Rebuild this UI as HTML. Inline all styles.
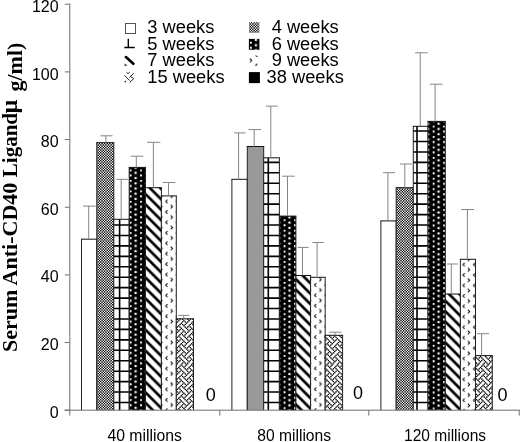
<!DOCTYPE html>
<html><head><meta charset="utf-8"><style>
html,body{margin:0;padding:0;background:#fff;}
svg{display:block;will-change:transform;filter:blur(0.35px);}
.yl{font-family:"Liberation Sans",sans-serif;font-size:16px;fill:#000;}
.zl{font-family:"Liberation Sans",sans-serif;font-size:18px;fill:#000;}
.xl{font-family:"Liberation Sans",sans-serif;font-size:15.6px;fill:#000;}
.lg{font-family:"Liberation Sans",sans-serif;font-size:18.3px;fill:#000;}
.yt{font-family:"Liberation Serif",serif;font-size:22px;font-weight:bold;fill:#000;}
</style></head><body>
<svg xmlns="http://www.w3.org/2000/svg" width="520" height="442" viewBox="0 0 520 442">
<defs><pattern id="chk0" patternUnits="userSpaceOnUse" width="13" height="13" patternTransform="translate(0,0)"><rect width="13" height="13" fill="#fff"/><rect x="0" y="0" width="1" height="1" fill="#000000"/><rect x="1" y="0" width="1" height="1" fill="#c1c1c1"/><rect x="2" y="0" width="1" height="1" fill="#a2a2a2"/><rect x="3" y="0" width="1" height="1" fill="#090909"/><rect x="5" y="0" width="1" height="1" fill="#202020"/><rect x="6" y="0" width="1" height="1" fill="#808080"/><rect x="7" y="0" width="1" height="1" fill="#dfdfdf"/><rect x="8" y="0" width="1" height="1" fill="#000000"/><rect x="9" y="0" width="1" height="1" fill="#f6f6f6"/><rect x="10" y="0" width="1" height="1" fill="#5d5d5d"/><rect x="11" y="0" width="1" height="1" fill="#3e3e3e"/><rect x="0" y="1" width="1" height="1" fill="#c1c1c1"/><rect x="1" y="1" width="1" height="1" fill="#606060"/><rect x="2" y="1" width="1" height="1" fill="#6f6f6f"/><rect x="3" y="1" width="1" height="1" fill="#b8b8b8"/><rect x="4" y="1" width="1" height="1" fill="#393939"/><rect x="5" y="1" width="1" height="1" fill="#adadad"/><rect x="6" y="1" width="1" height="1" fill="#808080"/><rect x="7" y="1" width="1" height="1" fill="#525252"/><rect x="8" y="1" width="1" height="1" fill="#c6c6c6"/><rect x="9" y="1" width="1" height="1" fill="#474747"/><rect x="10" y="1" width="1" height="1" fill="#909090"/><rect x="11" y="1" width="1" height="1" fill="#9f9f9f"/><rect x="12" y="1" width="1" height="1" fill="#3e3e3e"/><rect x="0" y="2" width="1" height="1" fill="#a2a2a2"/><rect x="1" y="2" width="1" height="1" fill="#707070"/><rect x="2" y="2" width="1" height="1" fill="#777777"/><rect x="3" y="2" width="1" height="1" fill="#9d9d9d"/><rect x="4" y="2" width="1" height="1" fill="#5c5c5c"/><rect x="5" y="2" width="1" height="1" fill="#979797"/><rect x="6" y="2" width="1" height="1" fill="#808080"/><rect x="7" y="2" width="1" height="1" fill="#686868"/><rect x="8" y="2" width="1" height="1" fill="#a3a3a3"/><rect x="9" y="2" width="1" height="1" fill="#626262"/><rect x="10" y="2" width="1" height="1" fill="#888888"/><rect x="11" y="2" width="1" height="1" fill="#8f8f8f"/><rect x="12" y="2" width="1" height="1" fill="#5d5d5d"/><rect x="0" y="3" width="1" height="1" fill="#080808"/><rect x="1" y="3" width="1" height="1" fill="#b8b8b8"/><rect x="2" y="3" width="1" height="1" fill="#9d9d9d"/><rect x="3" y="3" width="1" height="1" fill="#181818"/><rect x="5" y="3" width="1" height="1" fill="#2c2c2c"/><rect x="6" y="3" width="1" height="1" fill="#808080"/><rect x="7" y="3" width="1" height="1" fill="#d3d3d3"/><rect x="8" y="3" width="1" height="1" fill="#000000"/><rect x="9" y="3" width="1" height="1" fill="#e7e7e7"/><rect x="10" y="3" width="1" height="1" fill="#626262"/><rect x="11" y="3" width="1" height="1" fill="#474747"/><rect x="12" y="3" width="1" height="1" fill="#f7f7f7"/><rect x="1" y="4" width="1" height="1" fill="#393939"/><rect x="2" y="4" width="1" height="1" fill="#5b5b5b"/><rect x="4" y="4" width="1" height="1" fill="#000000"/><rect x="5" y="4" width="1" height="1" fill="#e5e5e5"/><rect x="6" y="4" width="1" height="1" fill="#808080"/><rect x="7" y="4" width="1" height="1" fill="#1a1a1a"/><rect x="9" y="4" width="1" height="1" fill="#010101"/><rect x="10" y="4" width="1" height="1" fill="#a4a4a4"/><rect x="11" y="4" width="1" height="1" fill="#c6c6c6"/><rect x="12" y="4" width="1" height="1" fill="#000000"/><rect x="0" y="5" width="1" height="1" fill="#202020"/><rect x="1" y="5" width="1" height="1" fill="#adadad"/><rect x="2" y="5" width="1" height="1" fill="#979797"/><rect x="3" y="5" width="1" height="1" fill="#2e2e2e"/><rect x="4" y="5" width="1" height="1" fill="#e5e5e5"/><rect x="5" y="5" width="1" height="1" fill="#3d3d3d"/><rect x="6" y="5" width="1" height="1" fill="#808080"/><rect x="7" y="5" width="1" height="1" fill="#c2c2c2"/><rect x="8" y="5" width="1" height="1" fill="#1a1a1a"/><rect x="9" y="5" width="1" height="1" fill="#d1d1d1"/><rect x="10" y="5" width="1" height="1" fill="#686868"/><rect x="11" y="5" width="1" height="1" fill="#525252"/><rect x="12" y="5" width="1" height="1" fill="#dfdfdf"/><rect x="0" y="6" width="1" height="1" fill="#808080"/><rect x="1" y="6" width="1" height="1" fill="#808080"/><rect x="2" y="6" width="1" height="1" fill="#808080"/><rect x="3" y="6" width="1" height="1" fill="#808080"/><rect x="4" y="6" width="1" height="1" fill="#808080"/><rect x="5" y="6" width="1" height="1" fill="#808080"/><rect x="6" y="6" width="1" height="1" fill="#808080"/><rect x="7" y="6" width="1" height="1" fill="#808080"/><rect x="8" y="6" width="1" height="1" fill="#808080"/><rect x="9" y="6" width="1" height="1" fill="#808080"/><rect x="10" y="6" width="1" height="1" fill="#808080"/><rect x="11" y="6" width="1" height="1" fill="#808080"/><rect x="12" y="6" width="1" height="1" fill="#808080"/><rect x="0" y="7" width="1" height="1" fill="#dfdfdf"/><rect x="1" y="7" width="1" height="1" fill="#525252"/><rect x="2" y="7" width="1" height="1" fill="#686868"/><rect x="3" y="7" width="1" height="1" fill="#d1d1d1"/><rect x="4" y="7" width="1" height="1" fill="#1a1a1a"/><rect x="5" y="7" width="1" height="1" fill="#c2c2c2"/><rect x="6" y="7" width="1" height="1" fill="#808080"/><rect x="7" y="7" width="1" height="1" fill="#3d3d3d"/><rect x="8" y="7" width="1" height="1" fill="#e5e5e5"/><rect x="9" y="7" width="1" height="1" fill="#2e2e2e"/><rect x="10" y="7" width="1" height="1" fill="#979797"/><rect x="11" y="7" width="1" height="1" fill="#adadad"/><rect x="12" y="7" width="1" height="1" fill="#202020"/><rect x="0" y="8" width="1" height="1" fill="#000000"/><rect x="1" y="8" width="1" height="1" fill="#c6c6c6"/><rect x="2" y="8" width="1" height="1" fill="#a4a4a4"/><rect x="3" y="8" width="1" height="1" fill="#010101"/><rect x="5" y="8" width="1" height="1" fill="#1a1a1a"/><rect x="6" y="8" width="1" height="1" fill="#808080"/><rect x="7" y="8" width="1" height="1" fill="#e5e5e5"/><rect x="8" y="8" width="1" height="1" fill="#000000"/><rect x="10" y="8" width="1" height="1" fill="#5b5b5b"/><rect x="11" y="8" width="1" height="1" fill="#393939"/><rect x="0" y="9" width="1" height="1" fill="#f7f7f7"/><rect x="1" y="9" width="1" height="1" fill="#474747"/><rect x="2" y="9" width="1" height="1" fill="#626262"/><rect x="3" y="9" width="1" height="1" fill="#e7e7e7"/><rect x="4" y="9" width="1" height="1" fill="#000000"/><rect x="5" y="9" width="1" height="1" fill="#d3d3d3"/><rect x="6" y="9" width="1" height="1" fill="#808080"/><rect x="7" y="9" width="1" height="1" fill="#2c2c2c"/><rect x="9" y="9" width="1" height="1" fill="#181818"/><rect x="10" y="9" width="1" height="1" fill="#9d9d9d"/><rect x="11" y="9" width="1" height="1" fill="#b8b8b8"/><rect x="12" y="9" width="1" height="1" fill="#080808"/><rect x="0" y="10" width="1" height="1" fill="#5d5d5d"/><rect x="1" y="10" width="1" height="1" fill="#8f8f8f"/><rect x="2" y="10" width="1" height="1" fill="#888888"/><rect x="3" y="10" width="1" height="1" fill="#626262"/><rect x="4" y="10" width="1" height="1" fill="#a3a3a3"/><rect x="5" y="10" width="1" height="1" fill="#686868"/><rect x="6" y="10" width="1" height="1" fill="#808080"/><rect x="7" y="10" width="1" height="1" fill="#979797"/><rect x="8" y="10" width="1" height="1" fill="#5c5c5c"/><rect x="9" y="10" width="1" height="1" fill="#9d9d9d"/><rect x="10" y="10" width="1" height="1" fill="#777777"/><rect x="11" y="10" width="1" height="1" fill="#707070"/><rect x="12" y="10" width="1" height="1" fill="#a2a2a2"/><rect x="0" y="11" width="1" height="1" fill="#3e3e3e"/><rect x="1" y="11" width="1" height="1" fill="#9f9f9f"/><rect x="2" y="11" width="1" height="1" fill="#909090"/><rect x="3" y="11" width="1" height="1" fill="#474747"/><rect x="4" y="11" width="1" height="1" fill="#c6c6c6"/><rect x="5" y="11" width="1" height="1" fill="#525252"/><rect x="6" y="11" width="1" height="1" fill="#808080"/><rect x="7" y="11" width="1" height="1" fill="#adadad"/><rect x="8" y="11" width="1" height="1" fill="#393939"/><rect x="9" y="11" width="1" height="1" fill="#b8b8b8"/><rect x="10" y="11" width="1" height="1" fill="#6f6f6f"/><rect x="11" y="11" width="1" height="1" fill="#606060"/><rect x="12" y="11" width="1" height="1" fill="#c1c1c1"/><rect x="1" y="12" width="1" height="1" fill="#3e3e3e"/><rect x="2" y="12" width="1" height="1" fill="#5d5d5d"/><rect x="3" y="12" width="1" height="1" fill="#f6f6f6"/><rect x="4" y="12" width="1" height="1" fill="#000000"/><rect x="5" y="12" width="1" height="1" fill="#dfdfdf"/><rect x="6" y="12" width="1" height="1" fill="#808080"/><rect x="7" y="12" width="1" height="1" fill="#202020"/><rect x="9" y="12" width="1" height="1" fill="#090909"/><rect x="10" y="12" width="1" height="1" fill="#a2a2a2"/><rect x="11" y="12" width="1" height="1" fill="#c1c1c1"/><rect x="12" y="12" width="1" height="1" fill="#000000"/></pattern><pattern id="dots0" patternUnits="userSpaceOnUse" width="8" height="8" patternTransform="translate(129.75,169.55) scale(1.305)"><rect width="8" height="8" fill="#000"/><g fill="#fff"><circle cx="0.5" cy="0.5" r="0.95"/><circle cx="0.5" cy="4.5" r="0.95"/><circle cx="4.5" cy="2.5" r="0.95"/><circle cx="4.5" cy="6.5" r="0.95"/></g></pattern><pattern id="chev0" patternUnits="userSpaceOnUse" width="8" height="8" patternTransform="translate(165.20,220.45) scale(1.305)"><rect width="8" height="8" fill="#fff"/><path d="M1.8 0.1L0.4 1.5L1.8 2.9M4.2 4.1L5.6 5.5L4.2 6.9" stroke="#000" stroke-width="0.75" fill="none" stroke-linecap="butt" stroke-linejoin="miter"/></pattern><pattern id="diag0" patternUnits="userSpaceOnUse" width="10.44" height="10.44" patternTransform="translate(0,6.80)"><rect width="10.44" height="10.44" fill="#fff"/><g fill="#000"><polygon points="-23.780,-1 -19.980,-1 -7.540,11.440 -11.340,11.440"/><polygon points="-13.340,-1 -9.540,-1 2.900,11.440 -0.900,11.440"/><polygon points="-2.900,-1 0.900,-1 13.340,11.440 9.540,11.440"/><polygon points="7.540,-1 11.340,-1 23.780,11.440 19.980,11.440"/><polygon points="17.980,-1 21.780,-1 34.220,11.440 30.420,11.440"/></g></pattern><pattern id="weave0" href="#weaveB" patternTransform="translate(0,0)"/><pattern id="chk1" patternUnits="userSpaceOnUse" width="13" height="13" patternTransform="translate(0,0)"><rect width="13" height="13" fill="#fff"/><rect x="0" y="0" width="1" height="1" fill="#000000"/><rect x="1" y="0" width="1" height="1" fill="#c1c1c1"/><rect x="2" y="0" width="1" height="1" fill="#a2a2a2"/><rect x="3" y="0" width="1" height="1" fill="#090909"/><rect x="5" y="0" width="1" height="1" fill="#202020"/><rect x="6" y="0" width="1" height="1" fill="#808080"/><rect x="7" y="0" width="1" height="1" fill="#dfdfdf"/><rect x="8" y="0" width="1" height="1" fill="#000000"/><rect x="9" y="0" width="1" height="1" fill="#f6f6f6"/><rect x="10" y="0" width="1" height="1" fill="#5d5d5d"/><rect x="11" y="0" width="1" height="1" fill="#3e3e3e"/><rect x="0" y="1" width="1" height="1" fill="#c1c1c1"/><rect x="1" y="1" width="1" height="1" fill="#606060"/><rect x="2" y="1" width="1" height="1" fill="#6f6f6f"/><rect x="3" y="1" width="1" height="1" fill="#b8b8b8"/><rect x="4" y="1" width="1" height="1" fill="#393939"/><rect x="5" y="1" width="1" height="1" fill="#adadad"/><rect x="6" y="1" width="1" height="1" fill="#808080"/><rect x="7" y="1" width="1" height="1" fill="#525252"/><rect x="8" y="1" width="1" height="1" fill="#c6c6c6"/><rect x="9" y="1" width="1" height="1" fill="#474747"/><rect x="10" y="1" width="1" height="1" fill="#909090"/><rect x="11" y="1" width="1" height="1" fill="#9f9f9f"/><rect x="12" y="1" width="1" height="1" fill="#3e3e3e"/><rect x="0" y="2" width="1" height="1" fill="#a2a2a2"/><rect x="1" y="2" width="1" height="1" fill="#707070"/><rect x="2" y="2" width="1" height="1" fill="#777777"/><rect x="3" y="2" width="1" height="1" fill="#9d9d9d"/><rect x="4" y="2" width="1" height="1" fill="#5c5c5c"/><rect x="5" y="2" width="1" height="1" fill="#979797"/><rect x="6" y="2" width="1" height="1" fill="#808080"/><rect x="7" y="2" width="1" height="1" fill="#686868"/><rect x="8" y="2" width="1" height="1" fill="#a3a3a3"/><rect x="9" y="2" width="1" height="1" fill="#626262"/><rect x="10" y="2" width="1" height="1" fill="#888888"/><rect x="11" y="2" width="1" height="1" fill="#8f8f8f"/><rect x="12" y="2" width="1" height="1" fill="#5d5d5d"/><rect x="0" y="3" width="1" height="1" fill="#080808"/><rect x="1" y="3" width="1" height="1" fill="#b8b8b8"/><rect x="2" y="3" width="1" height="1" fill="#9d9d9d"/><rect x="3" y="3" width="1" height="1" fill="#181818"/><rect x="5" y="3" width="1" height="1" fill="#2c2c2c"/><rect x="6" y="3" width="1" height="1" fill="#808080"/><rect x="7" y="3" width="1" height="1" fill="#d3d3d3"/><rect x="8" y="3" width="1" height="1" fill="#000000"/><rect x="9" y="3" width="1" height="1" fill="#e7e7e7"/><rect x="10" y="3" width="1" height="1" fill="#626262"/><rect x="11" y="3" width="1" height="1" fill="#474747"/><rect x="12" y="3" width="1" height="1" fill="#f7f7f7"/><rect x="1" y="4" width="1" height="1" fill="#393939"/><rect x="2" y="4" width="1" height="1" fill="#5b5b5b"/><rect x="4" y="4" width="1" height="1" fill="#000000"/><rect x="5" y="4" width="1" height="1" fill="#e5e5e5"/><rect x="6" y="4" width="1" height="1" fill="#808080"/><rect x="7" y="4" width="1" height="1" fill="#1a1a1a"/><rect x="9" y="4" width="1" height="1" fill="#010101"/><rect x="10" y="4" width="1" height="1" fill="#a4a4a4"/><rect x="11" y="4" width="1" height="1" fill="#c6c6c6"/><rect x="12" y="4" width="1" height="1" fill="#000000"/><rect x="0" y="5" width="1" height="1" fill="#202020"/><rect x="1" y="5" width="1" height="1" fill="#adadad"/><rect x="2" y="5" width="1" height="1" fill="#979797"/><rect x="3" y="5" width="1" height="1" fill="#2e2e2e"/><rect x="4" y="5" width="1" height="1" fill="#e5e5e5"/><rect x="5" y="5" width="1" height="1" fill="#3d3d3d"/><rect x="6" y="5" width="1" height="1" fill="#808080"/><rect x="7" y="5" width="1" height="1" fill="#c2c2c2"/><rect x="8" y="5" width="1" height="1" fill="#1a1a1a"/><rect x="9" y="5" width="1" height="1" fill="#d1d1d1"/><rect x="10" y="5" width="1" height="1" fill="#686868"/><rect x="11" y="5" width="1" height="1" fill="#525252"/><rect x="12" y="5" width="1" height="1" fill="#dfdfdf"/><rect x="0" y="6" width="1" height="1" fill="#808080"/><rect x="1" y="6" width="1" height="1" fill="#808080"/><rect x="2" y="6" width="1" height="1" fill="#808080"/><rect x="3" y="6" width="1" height="1" fill="#808080"/><rect x="4" y="6" width="1" height="1" fill="#808080"/><rect x="5" y="6" width="1" height="1" fill="#808080"/><rect x="6" y="6" width="1" height="1" fill="#808080"/><rect x="7" y="6" width="1" height="1" fill="#808080"/><rect x="8" y="6" width="1" height="1" fill="#808080"/><rect x="9" y="6" width="1" height="1" fill="#808080"/><rect x="10" y="6" width="1" height="1" fill="#808080"/><rect x="11" y="6" width="1" height="1" fill="#808080"/><rect x="12" y="6" width="1" height="1" fill="#808080"/><rect x="0" y="7" width="1" height="1" fill="#dfdfdf"/><rect x="1" y="7" width="1" height="1" fill="#525252"/><rect x="2" y="7" width="1" height="1" fill="#686868"/><rect x="3" y="7" width="1" height="1" fill="#d1d1d1"/><rect x="4" y="7" width="1" height="1" fill="#1a1a1a"/><rect x="5" y="7" width="1" height="1" fill="#c2c2c2"/><rect x="6" y="7" width="1" height="1" fill="#808080"/><rect x="7" y="7" width="1" height="1" fill="#3d3d3d"/><rect x="8" y="7" width="1" height="1" fill="#e5e5e5"/><rect x="9" y="7" width="1" height="1" fill="#2e2e2e"/><rect x="10" y="7" width="1" height="1" fill="#979797"/><rect x="11" y="7" width="1" height="1" fill="#adadad"/><rect x="12" y="7" width="1" height="1" fill="#202020"/><rect x="0" y="8" width="1" height="1" fill="#000000"/><rect x="1" y="8" width="1" height="1" fill="#c6c6c6"/><rect x="2" y="8" width="1" height="1" fill="#a4a4a4"/><rect x="3" y="8" width="1" height="1" fill="#010101"/><rect x="5" y="8" width="1" height="1" fill="#1a1a1a"/><rect x="6" y="8" width="1" height="1" fill="#808080"/><rect x="7" y="8" width="1" height="1" fill="#e5e5e5"/><rect x="8" y="8" width="1" height="1" fill="#000000"/><rect x="10" y="8" width="1" height="1" fill="#5b5b5b"/><rect x="11" y="8" width="1" height="1" fill="#393939"/><rect x="0" y="9" width="1" height="1" fill="#f7f7f7"/><rect x="1" y="9" width="1" height="1" fill="#474747"/><rect x="2" y="9" width="1" height="1" fill="#626262"/><rect x="3" y="9" width="1" height="1" fill="#e7e7e7"/><rect x="4" y="9" width="1" height="1" fill="#000000"/><rect x="5" y="9" width="1" height="1" fill="#d3d3d3"/><rect x="6" y="9" width="1" height="1" fill="#808080"/><rect x="7" y="9" width="1" height="1" fill="#2c2c2c"/><rect x="9" y="9" width="1" height="1" fill="#181818"/><rect x="10" y="9" width="1" height="1" fill="#9d9d9d"/><rect x="11" y="9" width="1" height="1" fill="#b8b8b8"/><rect x="12" y="9" width="1" height="1" fill="#080808"/><rect x="0" y="10" width="1" height="1" fill="#5d5d5d"/><rect x="1" y="10" width="1" height="1" fill="#8f8f8f"/><rect x="2" y="10" width="1" height="1" fill="#888888"/><rect x="3" y="10" width="1" height="1" fill="#626262"/><rect x="4" y="10" width="1" height="1" fill="#a3a3a3"/><rect x="5" y="10" width="1" height="1" fill="#686868"/><rect x="6" y="10" width="1" height="1" fill="#808080"/><rect x="7" y="10" width="1" height="1" fill="#979797"/><rect x="8" y="10" width="1" height="1" fill="#5c5c5c"/><rect x="9" y="10" width="1" height="1" fill="#9d9d9d"/><rect x="10" y="10" width="1" height="1" fill="#777777"/><rect x="11" y="10" width="1" height="1" fill="#707070"/><rect x="12" y="10" width="1" height="1" fill="#a2a2a2"/><rect x="0" y="11" width="1" height="1" fill="#3e3e3e"/><rect x="1" y="11" width="1" height="1" fill="#9f9f9f"/><rect x="2" y="11" width="1" height="1" fill="#909090"/><rect x="3" y="11" width="1" height="1" fill="#474747"/><rect x="4" y="11" width="1" height="1" fill="#c6c6c6"/><rect x="5" y="11" width="1" height="1" fill="#525252"/><rect x="6" y="11" width="1" height="1" fill="#808080"/><rect x="7" y="11" width="1" height="1" fill="#adadad"/><rect x="8" y="11" width="1" height="1" fill="#393939"/><rect x="9" y="11" width="1" height="1" fill="#b8b8b8"/><rect x="10" y="11" width="1" height="1" fill="#6f6f6f"/><rect x="11" y="11" width="1" height="1" fill="#606060"/><rect x="12" y="11" width="1" height="1" fill="#c1c1c1"/><rect x="1" y="12" width="1" height="1" fill="#3e3e3e"/><rect x="2" y="12" width="1" height="1" fill="#5d5d5d"/><rect x="3" y="12" width="1" height="1" fill="#f6f6f6"/><rect x="4" y="12" width="1" height="1" fill="#000000"/><rect x="5" y="12" width="1" height="1" fill="#dfdfdf"/><rect x="6" y="12" width="1" height="1" fill="#808080"/><rect x="7" y="12" width="1" height="1" fill="#202020"/><rect x="9" y="12" width="1" height="1" fill="#090909"/><rect x="10" y="12" width="1" height="1" fill="#a2a2a2"/><rect x="11" y="12" width="1" height="1" fill="#c1c1c1"/><rect x="12" y="12" width="1" height="1" fill="#000000"/></pattern><pattern id="dots1" patternUnits="userSpaceOnUse" width="8" height="8" patternTransform="translate(283.65,219.35) scale(1.305)"><rect width="8" height="8" fill="#000"/><g fill="#fff"><circle cx="0.5" cy="0.5" r="0.95"/><circle cx="0.5" cy="4.5" r="0.95"/><circle cx="4.5" cy="2.5" r="0.95"/><circle cx="4.5" cy="6.5" r="0.95"/></g></pattern><pattern id="chev1" patternUnits="userSpaceOnUse" width="8" height="8" patternTransform="translate(313.90,282.95) scale(1.305)"><rect width="8" height="8" fill="#fff"/><path d="M1.8 0.1L0.4 1.5L1.8 2.9M4.2 4.1L5.6 5.5L4.2 6.9" stroke="#000" stroke-width="0.75" fill="none" stroke-linecap="butt" stroke-linejoin="miter"/></pattern><pattern id="diag1" patternUnits="userSpaceOnUse" width="10.44" height="10.44" patternTransform="translate(0,4.20)"><rect width="10.44" height="10.44" fill="#fff"/><g fill="#000"><polygon points="-23.780,-1 -19.980,-1 -7.540,11.440 -11.340,11.440"/><polygon points="-13.340,-1 -9.540,-1 2.900,11.440 -0.900,11.440"/><polygon points="-2.900,-1 0.900,-1 13.340,11.440 9.540,11.440"/><polygon points="7.540,-1 11.340,-1 23.780,11.440 19.980,11.440"/><polygon points="17.980,-1 21.780,-1 34.220,11.440 30.420,11.440"/></g></pattern><pattern id="weave1" href="#weaveB" patternTransform="translate(0,0)"/><pattern id="chk2" patternUnits="userSpaceOnUse" width="13" height="13" patternTransform="translate(0,0)"><rect width="13" height="13" fill="#fff"/><rect x="0" y="0" width="1" height="1" fill="#000000"/><rect x="1" y="0" width="1" height="1" fill="#c1c1c1"/><rect x="2" y="0" width="1" height="1" fill="#a2a2a2"/><rect x="3" y="0" width="1" height="1" fill="#090909"/><rect x="5" y="0" width="1" height="1" fill="#202020"/><rect x="6" y="0" width="1" height="1" fill="#808080"/><rect x="7" y="0" width="1" height="1" fill="#dfdfdf"/><rect x="8" y="0" width="1" height="1" fill="#000000"/><rect x="9" y="0" width="1" height="1" fill="#f6f6f6"/><rect x="10" y="0" width="1" height="1" fill="#5d5d5d"/><rect x="11" y="0" width="1" height="1" fill="#3e3e3e"/><rect x="0" y="1" width="1" height="1" fill="#c1c1c1"/><rect x="1" y="1" width="1" height="1" fill="#606060"/><rect x="2" y="1" width="1" height="1" fill="#6f6f6f"/><rect x="3" y="1" width="1" height="1" fill="#b8b8b8"/><rect x="4" y="1" width="1" height="1" fill="#393939"/><rect x="5" y="1" width="1" height="1" fill="#adadad"/><rect x="6" y="1" width="1" height="1" fill="#808080"/><rect x="7" y="1" width="1" height="1" fill="#525252"/><rect x="8" y="1" width="1" height="1" fill="#c6c6c6"/><rect x="9" y="1" width="1" height="1" fill="#474747"/><rect x="10" y="1" width="1" height="1" fill="#909090"/><rect x="11" y="1" width="1" height="1" fill="#9f9f9f"/><rect x="12" y="1" width="1" height="1" fill="#3e3e3e"/><rect x="0" y="2" width="1" height="1" fill="#a2a2a2"/><rect x="1" y="2" width="1" height="1" fill="#707070"/><rect x="2" y="2" width="1" height="1" fill="#777777"/><rect x="3" y="2" width="1" height="1" fill="#9d9d9d"/><rect x="4" y="2" width="1" height="1" fill="#5c5c5c"/><rect x="5" y="2" width="1" height="1" fill="#979797"/><rect x="6" y="2" width="1" height="1" fill="#808080"/><rect x="7" y="2" width="1" height="1" fill="#686868"/><rect x="8" y="2" width="1" height="1" fill="#a3a3a3"/><rect x="9" y="2" width="1" height="1" fill="#626262"/><rect x="10" y="2" width="1" height="1" fill="#888888"/><rect x="11" y="2" width="1" height="1" fill="#8f8f8f"/><rect x="12" y="2" width="1" height="1" fill="#5d5d5d"/><rect x="0" y="3" width="1" height="1" fill="#080808"/><rect x="1" y="3" width="1" height="1" fill="#b8b8b8"/><rect x="2" y="3" width="1" height="1" fill="#9d9d9d"/><rect x="3" y="3" width="1" height="1" fill="#181818"/><rect x="5" y="3" width="1" height="1" fill="#2c2c2c"/><rect x="6" y="3" width="1" height="1" fill="#808080"/><rect x="7" y="3" width="1" height="1" fill="#d3d3d3"/><rect x="8" y="3" width="1" height="1" fill="#000000"/><rect x="9" y="3" width="1" height="1" fill="#e7e7e7"/><rect x="10" y="3" width="1" height="1" fill="#626262"/><rect x="11" y="3" width="1" height="1" fill="#474747"/><rect x="12" y="3" width="1" height="1" fill="#f7f7f7"/><rect x="1" y="4" width="1" height="1" fill="#393939"/><rect x="2" y="4" width="1" height="1" fill="#5b5b5b"/><rect x="4" y="4" width="1" height="1" fill="#000000"/><rect x="5" y="4" width="1" height="1" fill="#e5e5e5"/><rect x="6" y="4" width="1" height="1" fill="#808080"/><rect x="7" y="4" width="1" height="1" fill="#1a1a1a"/><rect x="9" y="4" width="1" height="1" fill="#010101"/><rect x="10" y="4" width="1" height="1" fill="#a4a4a4"/><rect x="11" y="4" width="1" height="1" fill="#c6c6c6"/><rect x="12" y="4" width="1" height="1" fill="#000000"/><rect x="0" y="5" width="1" height="1" fill="#202020"/><rect x="1" y="5" width="1" height="1" fill="#adadad"/><rect x="2" y="5" width="1" height="1" fill="#979797"/><rect x="3" y="5" width="1" height="1" fill="#2e2e2e"/><rect x="4" y="5" width="1" height="1" fill="#e5e5e5"/><rect x="5" y="5" width="1" height="1" fill="#3d3d3d"/><rect x="6" y="5" width="1" height="1" fill="#808080"/><rect x="7" y="5" width="1" height="1" fill="#c2c2c2"/><rect x="8" y="5" width="1" height="1" fill="#1a1a1a"/><rect x="9" y="5" width="1" height="1" fill="#d1d1d1"/><rect x="10" y="5" width="1" height="1" fill="#686868"/><rect x="11" y="5" width="1" height="1" fill="#525252"/><rect x="12" y="5" width="1" height="1" fill="#dfdfdf"/><rect x="0" y="6" width="1" height="1" fill="#808080"/><rect x="1" y="6" width="1" height="1" fill="#808080"/><rect x="2" y="6" width="1" height="1" fill="#808080"/><rect x="3" y="6" width="1" height="1" fill="#808080"/><rect x="4" y="6" width="1" height="1" fill="#808080"/><rect x="5" y="6" width="1" height="1" fill="#808080"/><rect x="6" y="6" width="1" height="1" fill="#808080"/><rect x="7" y="6" width="1" height="1" fill="#808080"/><rect x="8" y="6" width="1" height="1" fill="#808080"/><rect x="9" y="6" width="1" height="1" fill="#808080"/><rect x="10" y="6" width="1" height="1" fill="#808080"/><rect x="11" y="6" width="1" height="1" fill="#808080"/><rect x="12" y="6" width="1" height="1" fill="#808080"/><rect x="0" y="7" width="1" height="1" fill="#dfdfdf"/><rect x="1" y="7" width="1" height="1" fill="#525252"/><rect x="2" y="7" width="1" height="1" fill="#686868"/><rect x="3" y="7" width="1" height="1" fill="#d1d1d1"/><rect x="4" y="7" width="1" height="1" fill="#1a1a1a"/><rect x="5" y="7" width="1" height="1" fill="#c2c2c2"/><rect x="6" y="7" width="1" height="1" fill="#808080"/><rect x="7" y="7" width="1" height="1" fill="#3d3d3d"/><rect x="8" y="7" width="1" height="1" fill="#e5e5e5"/><rect x="9" y="7" width="1" height="1" fill="#2e2e2e"/><rect x="10" y="7" width="1" height="1" fill="#979797"/><rect x="11" y="7" width="1" height="1" fill="#adadad"/><rect x="12" y="7" width="1" height="1" fill="#202020"/><rect x="0" y="8" width="1" height="1" fill="#000000"/><rect x="1" y="8" width="1" height="1" fill="#c6c6c6"/><rect x="2" y="8" width="1" height="1" fill="#a4a4a4"/><rect x="3" y="8" width="1" height="1" fill="#010101"/><rect x="5" y="8" width="1" height="1" fill="#1a1a1a"/><rect x="6" y="8" width="1" height="1" fill="#808080"/><rect x="7" y="8" width="1" height="1" fill="#e5e5e5"/><rect x="8" y="8" width="1" height="1" fill="#000000"/><rect x="10" y="8" width="1" height="1" fill="#5b5b5b"/><rect x="11" y="8" width="1" height="1" fill="#393939"/><rect x="0" y="9" width="1" height="1" fill="#f7f7f7"/><rect x="1" y="9" width="1" height="1" fill="#474747"/><rect x="2" y="9" width="1" height="1" fill="#626262"/><rect x="3" y="9" width="1" height="1" fill="#e7e7e7"/><rect x="4" y="9" width="1" height="1" fill="#000000"/><rect x="5" y="9" width="1" height="1" fill="#d3d3d3"/><rect x="6" y="9" width="1" height="1" fill="#808080"/><rect x="7" y="9" width="1" height="1" fill="#2c2c2c"/><rect x="9" y="9" width="1" height="1" fill="#181818"/><rect x="10" y="9" width="1" height="1" fill="#9d9d9d"/><rect x="11" y="9" width="1" height="1" fill="#b8b8b8"/><rect x="12" y="9" width="1" height="1" fill="#080808"/><rect x="0" y="10" width="1" height="1" fill="#5d5d5d"/><rect x="1" y="10" width="1" height="1" fill="#8f8f8f"/><rect x="2" y="10" width="1" height="1" fill="#888888"/><rect x="3" y="10" width="1" height="1" fill="#626262"/><rect x="4" y="10" width="1" height="1" fill="#a3a3a3"/><rect x="5" y="10" width="1" height="1" fill="#686868"/><rect x="6" y="10" width="1" height="1" fill="#808080"/><rect x="7" y="10" width="1" height="1" fill="#979797"/><rect x="8" y="10" width="1" height="1" fill="#5c5c5c"/><rect x="9" y="10" width="1" height="1" fill="#9d9d9d"/><rect x="10" y="10" width="1" height="1" fill="#777777"/><rect x="11" y="10" width="1" height="1" fill="#707070"/><rect x="12" y="10" width="1" height="1" fill="#a2a2a2"/><rect x="0" y="11" width="1" height="1" fill="#3e3e3e"/><rect x="1" y="11" width="1" height="1" fill="#9f9f9f"/><rect x="2" y="11" width="1" height="1" fill="#909090"/><rect x="3" y="11" width="1" height="1" fill="#474747"/><rect x="4" y="11" width="1" height="1" fill="#c6c6c6"/><rect x="5" y="11" width="1" height="1" fill="#525252"/><rect x="6" y="11" width="1" height="1" fill="#808080"/><rect x="7" y="11" width="1" height="1" fill="#adadad"/><rect x="8" y="11" width="1" height="1" fill="#393939"/><rect x="9" y="11" width="1" height="1" fill="#b8b8b8"/><rect x="10" y="11" width="1" height="1" fill="#6f6f6f"/><rect x="11" y="11" width="1" height="1" fill="#606060"/><rect x="12" y="11" width="1" height="1" fill="#c1c1c1"/><rect x="1" y="12" width="1" height="1" fill="#3e3e3e"/><rect x="2" y="12" width="1" height="1" fill="#5d5d5d"/><rect x="3" y="12" width="1" height="1" fill="#f6f6f6"/><rect x="4" y="12" width="1" height="1" fill="#000000"/><rect x="5" y="12" width="1" height="1" fill="#dfdfdf"/><rect x="6" y="12" width="1" height="1" fill="#808080"/><rect x="7" y="12" width="1" height="1" fill="#202020"/><rect x="9" y="12" width="1" height="1" fill="#090909"/><rect x="10" y="12" width="1" height="1" fill="#a2a2a2"/><rect x="11" y="12" width="1" height="1" fill="#c1c1c1"/><rect x="12" y="12" width="1" height="1" fill="#000000"/></pattern><pattern id="dots2" patternUnits="userSpaceOnUse" width="8" height="8" patternTransform="translate(432.75,125.65) scale(1.305)"><rect width="8" height="8" fill="#000"/><g fill="#fff"><circle cx="0.5" cy="0.5" r="0.95"/><circle cx="0.5" cy="4.5" r="0.95"/><circle cx="4.5" cy="2.5" r="0.95"/><circle cx="4.5" cy="6.5" r="0.95"/></g></pattern><pattern id="chev2" patternUnits="userSpaceOnUse" width="8" height="8" patternTransform="translate(462.40,262.65) scale(1.305)"><rect width="8" height="8" fill="#fff"/><path d="M1.8 0.1L0.4 1.5L1.8 2.9M4.2 4.1L5.6 5.5L4.2 6.9" stroke="#000" stroke-width="0.75" fill="none" stroke-linecap="butt" stroke-linejoin="miter"/></pattern><pattern id="diag2" patternUnits="userSpaceOnUse" width="10.44" height="10.44" patternTransform="translate(0,1.65)"><rect width="10.44" height="10.44" fill="#fff"/><g fill="#000"><polygon points="-23.780,-1 -19.980,-1 -7.540,11.440 -11.340,11.440"/><polygon points="-13.340,-1 -9.540,-1 2.900,11.440 -0.900,11.440"/><polygon points="-2.900,-1 0.900,-1 13.340,11.440 9.540,11.440"/><polygon points="7.540,-1 11.340,-1 23.780,11.440 19.980,11.440"/><polygon points="17.980,-1 21.780,-1 34.220,11.440 30.420,11.440"/></g></pattern><pattern id="weave2" href="#weaveB" patternTransform="translate(0,0)"/><pattern id="chkL" patternUnits="userSpaceOnUse" width="13" height="13" patternTransform="translate(0,0)"><rect width="13" height="13" fill="#fff"/><rect x="0" y="0" width="1" height="1" fill="#000000"/><rect x="1" y="0" width="1" height="1" fill="#c1c1c1"/><rect x="2" y="0" width="1" height="1" fill="#a2a2a2"/><rect x="3" y="0" width="1" height="1" fill="#090909"/><rect x="5" y="0" width="1" height="1" fill="#202020"/><rect x="6" y="0" width="1" height="1" fill="#808080"/><rect x="7" y="0" width="1" height="1" fill="#dfdfdf"/><rect x="8" y="0" width="1" height="1" fill="#000000"/><rect x="9" y="0" width="1" height="1" fill="#f6f6f6"/><rect x="10" y="0" width="1" height="1" fill="#5d5d5d"/><rect x="11" y="0" width="1" height="1" fill="#3e3e3e"/><rect x="0" y="1" width="1" height="1" fill="#c1c1c1"/><rect x="1" y="1" width="1" height="1" fill="#606060"/><rect x="2" y="1" width="1" height="1" fill="#6f6f6f"/><rect x="3" y="1" width="1" height="1" fill="#b8b8b8"/><rect x="4" y="1" width="1" height="1" fill="#393939"/><rect x="5" y="1" width="1" height="1" fill="#adadad"/><rect x="6" y="1" width="1" height="1" fill="#808080"/><rect x="7" y="1" width="1" height="1" fill="#525252"/><rect x="8" y="1" width="1" height="1" fill="#c6c6c6"/><rect x="9" y="1" width="1" height="1" fill="#474747"/><rect x="10" y="1" width="1" height="1" fill="#909090"/><rect x="11" y="1" width="1" height="1" fill="#9f9f9f"/><rect x="12" y="1" width="1" height="1" fill="#3e3e3e"/><rect x="0" y="2" width="1" height="1" fill="#a2a2a2"/><rect x="1" y="2" width="1" height="1" fill="#707070"/><rect x="2" y="2" width="1" height="1" fill="#777777"/><rect x="3" y="2" width="1" height="1" fill="#9d9d9d"/><rect x="4" y="2" width="1" height="1" fill="#5c5c5c"/><rect x="5" y="2" width="1" height="1" fill="#979797"/><rect x="6" y="2" width="1" height="1" fill="#808080"/><rect x="7" y="2" width="1" height="1" fill="#686868"/><rect x="8" y="2" width="1" height="1" fill="#a3a3a3"/><rect x="9" y="2" width="1" height="1" fill="#626262"/><rect x="10" y="2" width="1" height="1" fill="#888888"/><rect x="11" y="2" width="1" height="1" fill="#8f8f8f"/><rect x="12" y="2" width="1" height="1" fill="#5d5d5d"/><rect x="0" y="3" width="1" height="1" fill="#080808"/><rect x="1" y="3" width="1" height="1" fill="#b8b8b8"/><rect x="2" y="3" width="1" height="1" fill="#9d9d9d"/><rect x="3" y="3" width="1" height="1" fill="#181818"/><rect x="5" y="3" width="1" height="1" fill="#2c2c2c"/><rect x="6" y="3" width="1" height="1" fill="#808080"/><rect x="7" y="3" width="1" height="1" fill="#d3d3d3"/><rect x="8" y="3" width="1" height="1" fill="#000000"/><rect x="9" y="3" width="1" height="1" fill="#e7e7e7"/><rect x="10" y="3" width="1" height="1" fill="#626262"/><rect x="11" y="3" width="1" height="1" fill="#474747"/><rect x="12" y="3" width="1" height="1" fill="#f7f7f7"/><rect x="1" y="4" width="1" height="1" fill="#393939"/><rect x="2" y="4" width="1" height="1" fill="#5b5b5b"/><rect x="4" y="4" width="1" height="1" fill="#000000"/><rect x="5" y="4" width="1" height="1" fill="#e5e5e5"/><rect x="6" y="4" width="1" height="1" fill="#808080"/><rect x="7" y="4" width="1" height="1" fill="#1a1a1a"/><rect x="9" y="4" width="1" height="1" fill="#010101"/><rect x="10" y="4" width="1" height="1" fill="#a4a4a4"/><rect x="11" y="4" width="1" height="1" fill="#c6c6c6"/><rect x="12" y="4" width="1" height="1" fill="#000000"/><rect x="0" y="5" width="1" height="1" fill="#202020"/><rect x="1" y="5" width="1" height="1" fill="#adadad"/><rect x="2" y="5" width="1" height="1" fill="#979797"/><rect x="3" y="5" width="1" height="1" fill="#2e2e2e"/><rect x="4" y="5" width="1" height="1" fill="#e5e5e5"/><rect x="5" y="5" width="1" height="1" fill="#3d3d3d"/><rect x="6" y="5" width="1" height="1" fill="#808080"/><rect x="7" y="5" width="1" height="1" fill="#c2c2c2"/><rect x="8" y="5" width="1" height="1" fill="#1a1a1a"/><rect x="9" y="5" width="1" height="1" fill="#d1d1d1"/><rect x="10" y="5" width="1" height="1" fill="#686868"/><rect x="11" y="5" width="1" height="1" fill="#525252"/><rect x="12" y="5" width="1" height="1" fill="#dfdfdf"/><rect x="0" y="6" width="1" height="1" fill="#808080"/><rect x="1" y="6" width="1" height="1" fill="#808080"/><rect x="2" y="6" width="1" height="1" fill="#808080"/><rect x="3" y="6" width="1" height="1" fill="#808080"/><rect x="4" y="6" width="1" height="1" fill="#808080"/><rect x="5" y="6" width="1" height="1" fill="#808080"/><rect x="6" y="6" width="1" height="1" fill="#808080"/><rect x="7" y="6" width="1" height="1" fill="#808080"/><rect x="8" y="6" width="1" height="1" fill="#808080"/><rect x="9" y="6" width="1" height="1" fill="#808080"/><rect x="10" y="6" width="1" height="1" fill="#808080"/><rect x="11" y="6" width="1" height="1" fill="#808080"/><rect x="12" y="6" width="1" height="1" fill="#808080"/><rect x="0" y="7" width="1" height="1" fill="#dfdfdf"/><rect x="1" y="7" width="1" height="1" fill="#525252"/><rect x="2" y="7" width="1" height="1" fill="#686868"/><rect x="3" y="7" width="1" height="1" fill="#d1d1d1"/><rect x="4" y="7" width="1" height="1" fill="#1a1a1a"/><rect x="5" y="7" width="1" height="1" fill="#c2c2c2"/><rect x="6" y="7" width="1" height="1" fill="#808080"/><rect x="7" y="7" width="1" height="1" fill="#3d3d3d"/><rect x="8" y="7" width="1" height="1" fill="#e5e5e5"/><rect x="9" y="7" width="1" height="1" fill="#2e2e2e"/><rect x="10" y="7" width="1" height="1" fill="#979797"/><rect x="11" y="7" width="1" height="1" fill="#adadad"/><rect x="12" y="7" width="1" height="1" fill="#202020"/><rect x="0" y="8" width="1" height="1" fill="#000000"/><rect x="1" y="8" width="1" height="1" fill="#c6c6c6"/><rect x="2" y="8" width="1" height="1" fill="#a4a4a4"/><rect x="3" y="8" width="1" height="1" fill="#010101"/><rect x="5" y="8" width="1" height="1" fill="#1a1a1a"/><rect x="6" y="8" width="1" height="1" fill="#808080"/><rect x="7" y="8" width="1" height="1" fill="#e5e5e5"/><rect x="8" y="8" width="1" height="1" fill="#000000"/><rect x="10" y="8" width="1" height="1" fill="#5b5b5b"/><rect x="11" y="8" width="1" height="1" fill="#393939"/><rect x="0" y="9" width="1" height="1" fill="#f7f7f7"/><rect x="1" y="9" width="1" height="1" fill="#474747"/><rect x="2" y="9" width="1" height="1" fill="#626262"/><rect x="3" y="9" width="1" height="1" fill="#e7e7e7"/><rect x="4" y="9" width="1" height="1" fill="#000000"/><rect x="5" y="9" width="1" height="1" fill="#d3d3d3"/><rect x="6" y="9" width="1" height="1" fill="#808080"/><rect x="7" y="9" width="1" height="1" fill="#2c2c2c"/><rect x="9" y="9" width="1" height="1" fill="#181818"/><rect x="10" y="9" width="1" height="1" fill="#9d9d9d"/><rect x="11" y="9" width="1" height="1" fill="#b8b8b8"/><rect x="12" y="9" width="1" height="1" fill="#080808"/><rect x="0" y="10" width="1" height="1" fill="#5d5d5d"/><rect x="1" y="10" width="1" height="1" fill="#8f8f8f"/><rect x="2" y="10" width="1" height="1" fill="#888888"/><rect x="3" y="10" width="1" height="1" fill="#626262"/><rect x="4" y="10" width="1" height="1" fill="#a3a3a3"/><rect x="5" y="10" width="1" height="1" fill="#686868"/><rect x="6" y="10" width="1" height="1" fill="#808080"/><rect x="7" y="10" width="1" height="1" fill="#979797"/><rect x="8" y="10" width="1" height="1" fill="#5c5c5c"/><rect x="9" y="10" width="1" height="1" fill="#9d9d9d"/><rect x="10" y="10" width="1" height="1" fill="#777777"/><rect x="11" y="10" width="1" height="1" fill="#707070"/><rect x="12" y="10" width="1" height="1" fill="#a2a2a2"/><rect x="0" y="11" width="1" height="1" fill="#3e3e3e"/><rect x="1" y="11" width="1" height="1" fill="#9f9f9f"/><rect x="2" y="11" width="1" height="1" fill="#909090"/><rect x="3" y="11" width="1" height="1" fill="#474747"/><rect x="4" y="11" width="1" height="1" fill="#c6c6c6"/><rect x="5" y="11" width="1" height="1" fill="#525252"/><rect x="6" y="11" width="1" height="1" fill="#808080"/><rect x="7" y="11" width="1" height="1" fill="#adadad"/><rect x="8" y="11" width="1" height="1" fill="#393939"/><rect x="9" y="11" width="1" height="1" fill="#b8b8b8"/><rect x="10" y="11" width="1" height="1" fill="#6f6f6f"/><rect x="11" y="11" width="1" height="1" fill="#606060"/><rect x="12" y="11" width="1" height="1" fill="#c1c1c1"/><rect x="1" y="12" width="1" height="1" fill="#3e3e3e"/><rect x="2" y="12" width="1" height="1" fill="#5d5d5d"/><rect x="3" y="12" width="1" height="1" fill="#f6f6f6"/><rect x="4" y="12" width="1" height="1" fill="#000000"/><rect x="5" y="12" width="1" height="1" fill="#dfdfdf"/><rect x="6" y="12" width="1" height="1" fill="#808080"/><rect x="7" y="12" width="1" height="1" fill="#202020"/><rect x="9" y="12" width="1" height="1" fill="#090909"/><rect x="10" y="12" width="1" height="1" fill="#a2a2a2"/><rect x="11" y="12" width="1" height="1" fill="#c1c1c1"/><rect x="12" y="12" width="1" height="1" fill="#000000"/></pattern><pattern id="dotsL" patternUnits="userSpaceOnUse" width="8" height="8" patternTransform="translate(250.05,41.85) scale(1.305)"><rect width="8" height="8" fill="#000"/><g fill="#fff"><circle cx="0.5" cy="0.5" r="0.95"/><circle cx="0.5" cy="4.5" r="0.95"/><circle cx="4.5" cy="2.5" r="0.95"/><circle cx="4.5" cy="6.5" r="0.95"/></g></pattern><pattern id="diagL" patternUnits="userSpaceOnUse" width="10.44" height="10.44" patternTransform="translate(0,4.18)"><rect width="10.44" height="10.44" fill="#fff"/><g fill="#000"><polygon points="-23.780,-1 -19.980,-1 -7.540,11.440 -11.340,11.440"/><polygon points="-13.340,-1 -9.540,-1 2.900,11.440 -0.900,11.440"/><polygon points="-2.900,-1 0.900,-1 13.340,11.440 9.540,11.440"/><polygon points="7.540,-1 11.340,-1 23.780,11.440 19.980,11.440"/><polygon points="17.980,-1 21.780,-1 34.220,11.440 30.420,11.440"/></g></pattern><pattern id="chevL" patternUnits="userSpaceOnUse" width="8" height="8" patternTransform="translate(254.90,53.20) scale(1.305)"><rect width="8" height="8" fill="#fff"/><path d="M1.8 0.1L0.4 1.5L1.8 2.9M4.2 4.1L5.6 5.5L4.2 6.9" stroke="#000" stroke-width="0.75" fill="none" stroke-linecap="butt" stroke-linejoin="miter"/></pattern><pattern id="weaveL" href="#weaveB" patternTransform="translate(124,72)"/><pattern id="weaveB" patternUnits="userSpaceOnUse" width="52" height="52"><rect width="52" height="52" fill="#fff"/><path fill="#eaeaea" d="M28 0h1v1h-1zM2 1h1v1h-1zM27 1h1v1h-1zM31 1h1v1h-1zM33 1h1v1h-1zM1 2h1v1h-1zM4 2h1v1h-1zM32 2h1v1h-1zM40 2h1v1h-1zM42 2h1v1h-1zM8 3h1v1h-1zM16 3h1v1h-1zM44 3h1v1h-1zM4 4h1v1h-1zM6 4h1v1h-1zM20 4h1v1h-1zM37 4h1v1h-1zM40 4h1v1h-1zM33 5h1v1h-1zM38 5h1v1h-1zM27 6h1v1h-1zM29 6h1v1h-1zM32 6h1v1h-1zM4 7h1v1h-1zM7 7h1v1h-1zM12 7h1v1h-1zM28 7h1v1h-1zM38 7h1v1h-1zM43 7h1v1h-1zM48 7h1v1h-1zM3 8h1v1h-1zM16 8h1v1h-1zM24 8h1v1h-1zM34 8h1v1h-1zM22 10h1v1h-1zM24 10h1v1h-1zM27 10h1v1h-1zM6 11h1v1h-1zM8 11h1v1h-1zM16 11h1v1h-1zM18 11h1v1h-1zM23 11h1v1h-1zM31 11h1v1h-1zM33 11h1v1h-1zM37 11h1v1h-1zM47 11h1v1h-1zM49 11h1v1h-1zM43 12h1v1h-1zM5 13h1v1h-1zM11 13h1v1h-1zM19 13h1v1h-1zM24 13h1v1h-1zM29 13h1v1h-1zM34 13h1v1h-1zM46 13h1v1h-1zM50 13h1v1h-1zM4 14h1v1h-1zM6 14h1v1h-1zM9 14h1v1h-1zM47 14h1v1h-1zM51 14h1v1h-1zM36 15h1v1h-1zM38 15h1v1h-1zM6 16h1v1h-1zM16 16h1v1h-1zM34 16h1v1h-1zM37 16h1v1h-1zM47 16h1v1h-1zM2 17h1v1h-1zM9 17h1v1h-1zM22 17h1v1h-1zM25 17h1v1h-1zM30 17h1v1h-1zM35 17h1v1h-1zM40 17h1v1h-1zM50 17h1v1h-1zM10 18h1v1h-1zM14 18h1v1h-1zM45 18h2v1h-2zM49 18h1v1h-1zM51 18h1v1h-1zM9 19h1v1h-1zM13 19h1v1h-1zM15 19h1v1h-1zM51 19h1v1h-1zM14 20h1v1h-1zM22 20h1v1h-1zM24 20h1v1h-1zM38 20h1v1h-1zM26 21h1v1h-1zM34 21h1v1h-1zM0 22h1v1h-1zM2 22h1v1h-1zM10 22h1v1h-1zM38 22h1v1h-1zM41 22h1v1h-1zM9 23h1v1h-1zM11 23h1v1h-1zM15 23h1v1h-1zM45 23h1v1h-1zM10 24h1v1h-1zM14 24h1v1h-1zM45 24h1v1h-1zM47 24h1v1h-1zM50 24h2v1h-2zM2 25h1v1h-1zM15 25h1v1h-1zM22 25h1v1h-1zM25 25h1v1h-1zM30 25h1v1h-1zM46 25h1v1h-1zM8 26h1v1h-1zM18 26h1v1h-1zM34 26h1v1h-1zM39 26h1v1h-1zM49 26h1v1h-1zM15 28h1v1h-1zM18 28h1v1h-1zM20 28h1v1h-1zM45 28h1v1h-1zM49 28h1v1h-1zM0 29h1v1h-1zM5 29h1v1h-1zM13 29h1v1h-1zM19 29h1v1h-1zM26 29h1v1h-1zM31 29h1v1h-1zM36 29h1v1h-1zM41 29h1v1h-1zM46 29h1v1h-1zM50 29h1v1h-1zM25 30h1v1h-1zM1 31h1v1h-1zM6 31h1v1h-1zM8 31h1v1h-1zM16 31h1v1h-1zM18 31h1v1h-1zM32 31h1v1h-1zM37 31h1v1h-1zM47 31h1v1h-1zM49 31h1v1h-1zM0 32h1v1h-1zM2 32h1v1h-1zM27 32h1v1h-1zM31 32h1v1h-1zM40 33h1v1h-1zM42 33h1v1h-1zM0 34h1v1h-1zM8 34h1v1h-1zM21 34h1v1h-1zM31 34h1v1h-1zM41 34h1v1h-1zM44 34h1v1h-1zM12 35h1v1h-1zM17 35h1v1h-1zM20 35h1v1h-1zM27 35h1v1h-1zM40 35h1v1h-1zM43 35h1v1h-1zM48 35h1v1h-1zM32 36h1v1h-1zM27 37h1v1h-1zM29 37h1v1h-1zM33 37h1v1h-1zM4 38h1v1h-1zM18 38h1v1h-1zM20 38h1v1h-1zM28 38h1v1h-1zM8 39h1v1h-1zM16 39h1v1h-1zM44 39h1v1h-1zM20 40h1v1h-1zM23 40h1v1h-1zM40 40h1v1h-1zM22 41h1v1h-1zM27 41h1v1h-1zM28 42h1v1h-1zM31 42h1v1h-1zM33 42h1v1h-1zM4 43h1v1h-1zM7 43h1v1h-1zM12 43h1v1h-1zM17 43h1v1h-1zM22 43h1v1h-1zM32 43h1v1h-1zM48 43h1v1h-1zM5 44h1v1h-1zM8 44h1v1h-1zM26 44h1v1h-1zM36 44h1v1h-1zM44 44h1v1h-1zM4 45h1v1h-1zM6 45h1v1h-1zM33 46h1v1h-1zM36 46h1v1h-1zM38 46h1v1h-1zM1 47h1v1h-1zM11 47h1v1h-1zM13 47h1v1h-1zM23 47h1v1h-1zM27 47h1v1h-1zM29 47h1v1h-1zM37 47h1v1h-1zM42 47h1v1h-1zM44 47h1v1h-1zM17 48h1v1h-1zM0 49h1v1h-1zM5 49h1v1h-1zM10 49h1v1h-1zM14 49h1v1h-1zM26 49h1v1h-1zM31 49h1v1h-1zM36 49h1v1h-1zM41 49h1v1h-1zM49 49h1v1h-1zM9 50h1v1h-1zM13 50h1v1h-1zM51 50h1v1h-1zM22 51h1v1h-1zM24 51h1v1h-1z"/><path fill="#d4d4d4" d="M1 0h1v1h-1zM6 0h1v1h-1zM18 0h1v1h-1zM24 0h1v1h-1zM32 0h1v1h-1zM37 0h1v1h-1zM0 1h1v1h-1zM28 1h1v1h-1zM12 2h1v1h-1zM15 2h1v1h-1zM22 2h1v1h-1zM45 2h1v1h-1zM48 2h1v1h-1zM11 3h1v1h-1zM13 3h1v1h-1zM47 3h1v1h-1zM49 3h1v1h-1zM9 4h1v1h-1zM12 4h1v1h-1zM17 4h1v1h-1zM27 4h1v1h-1zM48 4h1v1h-1zM51 4h1v1h-1zM28 5h1v1h-1zM32 5h1v1h-1zM36 5h1v1h-1zM1 6h1v1h-1zM23 6h1v1h-1zM37 6h1v1h-1zM42 6h1v1h-1zM2 7h1v1h-1zM17 7h1v1h-1zM20 7h1v1h-1zM22 7h1v1h-1zM44 8h1v1h-1zM49 8h1v1h-1zM9 9h1v1h-1zM15 9h1v1h-1zM23 9h1v1h-1zM51 9h1v1h-1zM28 10h1v1h-1zM3 11h1v1h-1zM13 11h1v1h-1zM26 11h1v1h-1zM39 11h1v1h-1zM44 11h1v1h-1zM2 12h1v1h-1zM4 12h1v1h-1zM38 12h1v1h-1zM40 12h1v1h-1zM3 13h1v1h-1zM8 13h1v1h-1zM26 13h1v1h-1zM36 13h1v1h-1zM39 13h1v1h-1zM44 13h1v1h-1zM37 14h1v1h-1zM45 14h1v1h-1zM50 14h1v1h-1zM5 15h1v1h-1zM33 15h1v1h-1zM46 15h1v1h-1zM26 16h1v1h-1zM29 16h1v1h-1zM4 17h1v1h-1zM0 18h1v1h-1zM5 18h1v1h-1zM18 18h1v1h-1zM36 18h1v1h-1zM41 18h1v1h-1zM10 19h1v1h-1zM46 19h1v1h-1zM50 19h1v1h-1zM4 20h1v1h-1zM27 20h1v1h-1zM30 20h1v1h-1zM35 20h1v1h-1zM45 20h1v1h-1zM29 21h1v1h-1zM31 21h1v1h-1zM20 22h1v1h-1zM27 22h1v1h-1zM30 22h1v1h-1zM51 22h1v1h-1zM14 23h1v1h-1zM42 23h1v1h-1zM46 23h1v1h-1zM50 23h1v1h-1zM6 24h1v1h-1zM19 24h1v1h-1zM24 24h1v1h-1zM41 24h1v1h-1zM20 25h1v1h-1zM35 25h1v1h-1zM38 25h1v1h-1zM40 25h1v1h-1zM19 27h1v1h-1zM27 27h1v1h-1zM33 27h1v1h-1zM50 27h1v1h-1zM46 28h1v1h-1zM51 28h1v1h-1zM16 29h1v1h-1zM21 29h1v1h-1zM29 29h1v1h-1zM39 29h1v1h-1zM20 30h1v1h-1zM22 30h1v1h-1zM38 30h1v1h-1zM40 30h1v1h-1zM11 31h1v1h-1zM21 31h1v1h-1zM26 31h1v1h-1zM39 31h1v1h-1zM42 31h1v1h-1zM28 32h1v1h-1zM33 32h1v1h-1zM41 32h1v1h-1zM1 33h1v1h-1zM9 33h1v1h-1zM15 33h1v1h-1zM32 33h1v1h-1zM45 33h1v1h-1zM47 34h1v1h-1zM2 35h1v1h-1zM4 35h1v1h-1zM7 35h1v1h-1zM22 35h1v1h-1zM1 36h1v1h-1zM23 36h1v1h-1zM28 36h1v1h-1zM36 36h1v1h-1zM42 36h1v1h-1zM32 37h1v1h-1zM7 38h1v1h-1zM12 38h1v1h-1zM15 38h1v1h-1zM38 38h1v1h-1zM45 38h1v1h-1zM48 38h1v1h-1zM11 39h1v1h-1zM13 39h1v1h-1zM47 39h1v1h-1zM49 39h1v1h-1zM2 40h1v1h-1zM9 40h1v1h-1zM12 40h1v1h-1zM33 40h1v1h-1zM43 40h1v1h-1zM48 40h1v1h-1zM51 40h1v1h-1zM24 41h1v1h-1zM28 41h1v1h-1zM32 41h1v1h-1zM0 42h1v1h-1zM6 42h1v1h-1zM18 42h1v1h-1zM23 42h1v1h-1zM37 42h1v1h-1zM38 43h1v1h-1zM40 43h1v1h-1zM43 43h1v1h-1zM11 44h1v1h-1zM16 44h1v1h-1zM9 45h1v1h-1zM37 45h1v1h-1zM45 45h1v1h-1zM51 45h1v1h-1zM5 46h1v1h-1zM32 46h1v1h-1zM3 47h1v1h-1zM6 47h1v1h-1zM16 47h1v1h-1zM21 47h1v1h-1zM34 47h1v1h-1zM47 47h1v1h-1zM2 48h1v1h-1zM4 48h1v1h-1zM20 48h1v1h-1zM22 48h1v1h-1zM3 49h1v1h-1zM16 49h1v1h-1zM21 49h1v1h-1zM24 49h1v1h-1zM34 49h1v1h-1zM10 50h1v1h-1zM15 50h1v1h-1zM23 50h1v1h-1zM14 51h1v1h-1zM27 51h1v1h-1z"/><path fill="#bfbfbf" d="M8 0h1v1h-1zM11 0h1v1h-1zM16 0h1v1h-1zM39 0h1v1h-1zM42 0h1v1h-1zM47 0h1v1h-1zM49 0h1v1h-1zM6 1h1v1h-1zM18 1h1v1h-1zM23 1h1v1h-1zM37 1h1v1h-1zM41 1h1v1h-1zM7 2h1v1h-1zM9 2h1v1h-1zM17 2h1v1h-1zM38 2h1v1h-1zM43 2h1v1h-1zM2 4h1v1h-1zM7 4h1v1h-1zM22 4h1v1h-1zM43 4h1v1h-1zM45 4h1v1h-1zM1 5h1v1h-1zM5 5h1v1h-1zM23 5h1v1h-1zM42 5h1v1h-1zM3 6h1v1h-1zM6 6h1v1h-1zM11 6h1v1h-1zM13 6h1v1h-1zM21 6h1v1h-1zM44 6h1v1h-1zM47 6h1v1h-1zM15 7h1v1h-1zM45 7h1v1h-1zM51 7h1v1h-1zM11 8h1v1h-1zM13 8h1v1h-1zM18 8h1v1h-1zM47 8h1v1h-1zM10 9h1v1h-1zM33 9h1v1h-1zM50 9h1v1h-1zM14 10h1v1h-1zM32 10h1v1h-1zM0 11h1v1h-1zM29 11h1v1h-1zM34 11h1v1h-1zM15 12h1v1h-1zM27 12h1v1h-1zM45 12h1v1h-1zM13 13h1v1h-1zM16 13h1v1h-1zM42 13h1v1h-1zM49 13h1v1h-1zM10 14h1v1h-1zM14 14h1v1h-1zM15 15h1v1h-1zM32 15h1v1h-1zM31 16h1v1h-1zM20 17h1v1h-1zM27 17h1v1h-1zM33 17h1v1h-1zM21 18h1v1h-1zM24 18h1v1h-1zM26 18h1v1h-1zM31 18h1v1h-1zM0 19h1v1h-1zM5 19h1v1h-1zM19 19h1v1h-1zM23 19h1v1h-1zM41 19h1v1h-1zM20 20h1v1h-1zM25 20h1v1h-1zM40 20h1v1h-1zM4 22h1v1h-1zM25 22h1v1h-1zM33 22h1v1h-1zM35 22h1v1h-1zM1 23h1v1h-1zM5 23h1v1h-1zM19 23h1v1h-1zM24 23h1v1h-1zM0 24h1v1h-1zM3 24h1v1h-1zM29 24h1v1h-1zM31 24h1v1h-1zM34 24h1v1h-1zM39 24h1v1h-1zM4 25h1v1h-1zM33 25h1v1h-1zM29 26h1v1h-1zM31 26h1v1h-1zM36 26h1v1h-1zM9 27h1v1h-1zM32 27h1v1h-1zM10 28h1v1h-1zM14 28h1v1h-1zM28 28h1v1h-1zM8 29h1v1h-1zM11 29h1v1h-1zM47 29h1v1h-1zM9 30h1v1h-1zM27 30h1v1h-1zM51 30h1v1h-1zM24 31h1v1h-1zM29 31h1v1h-1zM10 32h1v1h-1zM14 33h1v1h-1zM46 33h1v1h-1zM6 34h1v1h-1zM11 34h1v1h-1zM13 34h1v1h-1zM49 34h1v1h-1zM9 35h1v1h-1zM38 35h1v1h-1zM45 35h1v1h-1zM51 35h1v1h-1zM3 36h1v1h-1zM11 36h1v1h-1zM13 36h1v1h-1zM18 36h1v1h-1zM21 36h1v1h-1zM44 36h1v1h-1zM49 36h1v1h-1zM1 37h1v1h-1zM19 37h1v1h-1zM23 37h1v1h-1zM37 37h1v1h-1zM42 37h1v1h-1zM2 38h1v1h-1zM17 38h1v1h-1zM22 38h1v1h-1zM43 38h1v1h-1zM51 38h1v1h-1zM7 40h1v1h-1zM15 40h1v1h-1zM17 40h1v1h-1zM38 40h1v1h-1zM1 41h1v1h-1zM6 41h1v1h-1zM18 41h1v1h-1zM37 41h1v1h-1zM8 42h1v1h-1zM13 42h1v1h-1zM16 42h1v1h-1zM39 42h1v1h-1zM47 42h1v1h-1zM49 42h1v1h-1zM2 43h1v1h-1zM9 43h1v1h-1zM15 43h1v1h-1zM45 43h1v1h-1zM13 44h1v1h-1zM42 44h1v1h-1zM47 44h1v1h-1zM49 44h1v1h-1zM10 45h1v1h-1zM27 45h1v1h-1zM50 45h1v1h-1zM28 46h1v1h-1zM46 46h1v1h-1zM26 47h1v1h-1zM31 47h1v1h-1zM15 48h1v1h-1zM33 48h1v1h-1zM45 48h1v1h-1zM11 49h1v1h-1zM18 49h1v1h-1zM44 49h1v1h-1zM47 49h1v1h-1zM46 50h1v1h-1zM50 50h1v1h-1zM28 51h1v1h-1zM45 51h1v1h-1z"/><path fill="#aaaaaa" d="M21 0h1v1h-1zM26 0h1v1h-1zM47 1h1v1h-1zM49 1h1v1h-1zM2 2h1v1h-1zM14 2h1v1h-1zM46 2h1v1h-1zM6 3h1v1h-1zM18 3h1v1h-1zM42 3h1v1h-1zM10 4h1v1h-1zM38 4h1v1h-1zM50 4h1v1h-1zM11 5h1v1h-1zM13 5h1v1h-1zM18 5h1v1h-1zM16 6h1v1h-1zM19 6h1v1h-1zM34 6h1v1h-1zM33 7h1v1h-1zM46 7h1v1h-1zM6 8h1v1h-1zM42 8h1v1h-1zM2 9h1v1h-1zM7 9h1v1h-1zM12 9h1v1h-1zM17 9h1v1h-1zM43 9h1v1h-1zM46 9h1v1h-1zM48 9h1v1h-1zM1 10h1v1h-1zM37 10h1v1h-1zM45 10h1v1h-1zM9 12h1v1h-1zM33 12h1v1h-1zM47 13h1v1h-1zM19 14h1v1h-1zM27 14h1v1h-1zM41 14h1v1h-1zM25 15h1v1h-1zM28 15h1v1h-1zM30 15h1v1h-1zM0 16h1v1h-1zM24 16h1v1h-1zM15 17h1v1h-1zM32 17h1v1h-1zM45 17h1v1h-1zM3 18h1v1h-1zM16 18h1v1h-1zM34 18h1v1h-1zM31 19h1v1h-1zM36 19h1v1h-1zM28 20h1v1h-1zM0 21h1v1h-1zM24 21h1v1h-1zM36 21h1v1h-1zM28 22h1v1h-1zM40 22h1v1h-1zM29 23h1v1h-1zM36 23h1v1h-1zM8 24h1v1h-1zM21 24h1v1h-1zM37 24h1v1h-1zM44 24h1v1h-1zM9 25h1v1h-1zM32 25h1v1h-1zM51 25h1v1h-1zM0 26h1v1h-1zM24 26h1v1h-1zM25 27h1v1h-1zM30 27h1v1h-1zM35 27h1v1h-1zM40 27h1v1h-1zM5 28h1v1h-1zM41 28h1v1h-1zM49 29h1v1h-1zM15 30h1v1h-1zM31 31h1v1h-1zM23 32h1v1h-1zM37 32h1v1h-1zM51 32h1v1h-1zM7 33h1v1h-1zM12 33h1v1h-1zM17 33h1v1h-1zM22 33h1v1h-1zM48 33h1v1h-1zM50 33h1v1h-1zM18 34h1v1h-1zM33 35h1v1h-1zM50 35h1v1h-1zM5 36h1v1h-1zM8 36h1v1h-1zM34 36h1v1h-1zM39 36h1v1h-1zM6 37h1v1h-1zM11 37h1v1h-1zM13 37h1v1h-1zM14 38h1v1h-1zM46 38h1v1h-1zM6 39h1v1h-1zM18 39h1v1h-1zM42 39h1v1h-1zM10 40h1v1h-1zM22 40h1v1h-1zM50 40h1v1h-1zM42 41h1v1h-1zM47 41h1v1h-1zM49 41h1v1h-1zM3 42h1v1h-1zM26 42h1v1h-1zM41 42h1v1h-1zM44 42h1v1h-1zM14 43h1v1h-1zM27 43h1v1h-1zM18 44h1v1h-1zM12 45h1v1h-1zM14 45h1v1h-1zM17 45h1v1h-1zM43 45h1v1h-1zM48 45h1v1h-1zM1 46h1v1h-1zM15 46h1v1h-1zM23 46h1v1h-1zM27 48h1v1h-1zM51 48h1v1h-1zM13 49h1v1h-1zM5 50h1v1h-1zM19 50h1v1h-1zM33 50h1v1h-1zM41 50h1v1h-1zM4 51h1v1h-1zM30 51h1v1h-1zM32 51h1v1h-1zM35 51h1v1h-1z"/><path fill="#959595" d="M29 0h1v1h-1zM31 0h1v1h-1zM8 1h1v1h-1zM10 1h1v1h-1zM13 1h1v1h-1zM16 1h1v1h-1zM26 1h1v1h-1zM39 1h1v1h-1zM27 2h1v1h-1zM33 2h1v1h-1zM50 2h1v1h-1zM14 4h1v1h-1zM33 4h1v1h-1zM3 5h1v1h-1zM21 5h1v1h-1zM34 5h1v1h-1zM44 5h1v1h-1zM46 5h1v1h-1zM49 5h1v1h-1zM24 6h1v1h-1zM26 6h1v1h-1zM31 6h1v1h-1zM10 7h1v1h-1zM14 7h1v1h-1zM27 7h1v1h-1zM32 7h1v1h-1zM5 9h1v1h-1zM19 9h1v1h-1zM22 9h1v1h-1zM27 9h1v1h-1zM38 9h1v1h-1zM41 9h1v1h-1zM4 10h1v1h-1zM6 10h1v1h-1zM18 10h1v1h-1zM24 11h1v1h-1zM36 11h1v1h-1zM41 11h1v1h-1zM14 12h1v1h-1zM28 12h1v1h-1zM46 12h1v1h-1zM1 13h1v1h-1zM6 13h1v1h-1zM18 13h1v1h-1zM0 14h1v1h-1zM24 14h1v1h-1zM1 15h1v1h-1zM4 15h1v1h-1zM20 15h1v1h-1zM23 15h1v1h-1zM35 15h1v1h-1zM40 15h1v1h-1zM51 15h1v1h-1zM19 16h1v1h-1zM36 16h1v1h-1zM14 17h1v1h-1zM46 17h1v1h-1zM51 17h1v1h-1zM11 18h1v1h-1zM13 18h1v1h-1zM42 18h1v1h-1zM44 18h1v1h-1zM47 18h1v1h-1zM16 19h1v1h-1zM21 19h1v1h-1zM26 19h1v1h-1zM29 19h1v1h-1zM9 20h1v1h-1zM15 20h1v1h-1zM32 20h1v1h-1zM51 20h1v1h-1zM9 22h1v1h-1zM15 22h1v1h-1zM45 22h1v1h-1zM3 23h1v1h-1zM8 23h1v1h-1zM32 23h1v1h-1zM34 23h1v1h-1zM39 23h1v1h-1zM44 23h1v1h-1zM11 24h1v1h-1zM13 24h1v1h-1zM49 24h1v1h-1zM10 25h1v1h-1zM28 25h1v1h-1zM45 25h1v1h-1zM50 25h1v1h-1zM5 26h1v1h-1zM1 27h1v1h-1zM4 27h1v1h-1zM20 27h1v1h-1zM23 27h1v1h-1zM45 27h1v1h-1zM0 28h1v1h-1zM24 28h1v1h-1zM36 28h1v1h-1zM38 28h1v1h-1zM6 29h1v1h-1zM18 29h1v1h-1zM23 29h1v1h-1zM42 29h1v1h-1zM10 30h1v1h-1zM28 30h1v1h-1zM50 30h1v1h-1zM0 31h1v1h-1zM36 31h1v1h-1zM6 32h1v1h-1zM18 32h1v1h-1zM20 32h1v1h-1zM2 33h1v1h-1zM5 33h1v1h-1zM19 33h1v1h-1zM38 33h1v1h-1zM43 33h1v1h-1zM37 34h1v1h-1zM42 34h1v1h-1zM10 35h1v1h-1zM14 35h1v1h-1zM32 35h1v1h-1zM0 36h1v1h-1zM29 36h1v1h-1zM31 36h1v1h-1zM3 37h1v1h-1zM21 37h1v1h-1zM34 37h1v1h-1zM44 37h1v1h-1zM47 37h1v1h-1zM50 37h1v1h-1zM10 38h1v1h-1zM27 38h1v1h-1zM33 38h1v1h-1zM27 40h1v1h-1zM46 40h1v1h-1zM8 41h1v1h-1zM11 41h1v1h-1zM14 41h1v1h-1zM16 41h1v1h-1zM26 41h1v1h-1zM39 41h1v1h-1zM29 42h1v1h-1zM34 42h1v1h-1zM36 42h1v1h-1zM28 43h1v1h-1zM33 43h1v1h-1zM46 43h1v1h-1zM50 43h1v1h-1zM1 44h1v1h-1zM6 44h1v1h-1zM2 45h1v1h-1zM7 45h1v1h-1zM19 45h1v1h-1zM22 45h1v1h-1zM33 45h1v1h-1zM38 45h1v1h-1zM41 45h1v1h-1zM42 46h1v1h-1zM0 47h1v1h-1zM19 47h1v1h-1zM24 47h1v1h-1zM36 47h1v1h-1zM14 48h1v1h-1zM32 48h1v1h-1zM46 48h1v1h-1zM6 49h1v1h-1zM42 49h1v1h-1zM0 50h1v1h-1zM2 50h1v1h-1zM36 50h1v1h-1zM9 51h1v1h-1zM20 51h1v1h-1zM25 51h1v1h-1zM37 51h1v1h-1zM40 51h1v1h-1z"/><path fill="#808080" d="M0 0h1v1h-1zM14 0h1v1h-1zM19 0h1v1h-1zM36 0h1v1h-1zM3 1h1v1h-1zM29 1h1v1h-1zM34 1h1v1h-1zM36 1h1v1h-1zM44 1h1v1h-1zM51 1h1v1h-1zM5 2h1v1h-1zM19 2h1v1h-1zM28 2h1v1h-1zM1 3h1v1h-1zM23 3h1v1h-1zM37 3h1v1h-1zM19 4h1v1h-1zM32 4h1v1h-1zM41 4h1v1h-1zM0 5h1v1h-1zM8 5h1v1h-1zM15 5h1v1h-1zM24 5h1v1h-1zM31 5h1v1h-1zM39 5h1v1h-1zM0 6h1v1h-1zM36 6h1v1h-1zM50 6h1v1h-1zM5 7h1v1h-1zM1 8h1v1h-1zM23 8h1v1h-1zM37 8h1v1h-1zM0 9h1v1h-1zM28 9h1v1h-1zM9 10h1v1h-1zM20 10h1v1h-1zM25 10h1v1h-1zM30 10h1v1h-1zM35 10h1v1h-1zM40 10h1v1h-1zM42 10h1v1h-1zM47 10h1v1h-1zM49 10h1v1h-1zM51 10h1v1h-1zM5 11h1v1h-1zM10 11h1v1h-1zM19 11h1v1h-1zM50 12h1v1h-1zM23 13h1v1h-1zM32 13h1v1h-1zM2 14h1v1h-1zM7 14h1v1h-1zM12 14h1v1h-1zM17 14h1v1h-1zM22 14h1v1h-1zM29 14h1v1h-1zM33 14h1v1h-1zM43 14h1v1h-1zM48 14h1v1h-1zM9 15h2v1h-2zM42 15h1v1h-1zM45 15h1v1h-1zM50 15h1v1h-1zM5 16h1v1h-1zM41 16h1v1h-1zM1 17h1v1h-1zM10 17h1v1h-1zM23 17h1v1h-1zM1 18h1v1h-1zM6 18h1v1h-1zM28 18h1v1h-1zM6 19h1v1h-1zM8 19h1v1h-1zM11 19h1v1h-1zM33 19h1v1h-1zM39 19h1v1h-1zM42 19h1v1h-1zM47 19h1v1h-1zM1 20h1v1h-1zM10 20h1v1h-1zM37 20h1v1h-1zM50 20h1v1h-1zM5 21h1v1h-1zM19 21h1v1h-1zM41 21h1v1h-1zM14 22h1v1h-1zM23 22h1v1h-1zM37 22h1v1h-1zM46 22h1v1h-1zM13 23h1v1h-1zM16 23h1v1h-1zM18 23h1v1h-1zM26 23h1v1h-1zM49 23h1v1h-1zM18 24h1v1h-1zM23 24h1v1h-1zM42 24h1v1h-1zM1 25h1v1h-1zM14 25h1v1h-1zM23 25h1v1h-1zM19 26h1v1h-1zM41 26h1v1h-1zM14 27h2v1h-2zM37 27h1v1h-1zM42 27h1v1h-1zM46 27h1v1h-1zM51 27h1v1h-1zM2 28h1v1h-1zM7 28h1v1h-1zM12 28h1v1h-1zM17 28h1v1h-1zM22 28h1v1h-1zM31 28h1v1h-1zM33 28h1v1h-1zM43 28h1v1h-1zM48 28h1v1h-1zM1 29h1v1h-1zM37 29h1v1h-1zM32 30h1v1h-1zM46 30h1v1h-1zM5 31h1v1h-1zM14 31h1v1h-1zM19 31h1v1h-1zM4 32h1v1h-1zM15 32h1v1h-1zM25 32h1v1h-1zM30 32h1v1h-1zM35 32h1v1h-1zM45 32h1v1h-1zM47 32h1v1h-1zM49 32h1v1h-1zM24 33h1v1h-1zM27 33h2v1h-2zM33 33h1v1h-1zM1 34h1v1h-1zM23 34h1v1h-1zM19 35h1v1h-1zM28 35h1v1h-1zM24 36h1v1h-1zM41 36h1v1h-1zM46 36h1v1h-1zM0 37h1v1h-1zM9 37h1v1h-1zM16 37h1v1h-1zM24 37h1v1h-1zM26 37h1v1h-1zM31 37h1v1h-1zM5 38h1v1h-1zM32 38h1v1h-1zM41 38h1v1h-1zM1 39h1v1h-1zM23 39h1v1h-1zM37 39h1v1h-1zM5 40h1v1h-1zM19 40h1v1h-1zM28 40h1v1h-1zM41 40h1v1h-1zM21 41h1v1h-1zM29 41h1v1h-1zM36 41h1v1h-1zM45 41h1v1h-1zM5 42h1v1h-1zM10 42h1v1h-1zM24 42h1v1h-1zM23 44h1v1h-1zM37 44h1v1h-1zM32 45h1v1h-1zM9 46h1v1h-1zM11 46h1v1h-1zM13 46h1v1h-1zM18 46h1v1h-1zM20 46h1v1h-1zM25 46h1v1h-1zM30 46h1v1h-1zM35 46h1v1h-1zM40 46h1v1h-1zM51 46h1v1h-1zM41 47h1v1h-1zM50 47h1v1h-1zM10 48h1v1h-1zM1 49h1v1h-1zM28 49h1v1h-1zM37 49h1v1h-1zM7 50h1v1h-1zM12 50h1v1h-1zM17 50h1v1h-1zM27 50h1v1h-1zM31 50h1v1h-1zM38 50h1v1h-1zM43 50h1v1h-1zM48 50h1v1h-1zM1 51h1v1h-1zM6 51h1v1h-1zM10 51h1v1h-1zM15 51h1v1h-1zM18 51h1v1h-1zM50 51h2v1h-2z"/><path fill="#6a6a6a" d="M5 0h1v1h-1zM41 0h1v1h-1zM45 0h1v1h-1zM50 0h1v1h-1zM5 1h1v1h-1zM14 1h2v1h-2zM19 1h2v1h-2zM24 1h1v1h-1zM45 1h2v1h-2zM50 1h1v1h-1zM24 2h1v1h-1zM37 2h1v1h-1zM1 4h1v1h-1zM23 4h1v1h-1zM28 4h1v1h-1zM9 5h2v1h-2zM14 5h1v1h-1zM19 5h2v1h-2zM25 5h1v1h-1zM29 5h1v1h-1zM41 5h1v1h-1zM50 5h2v1h-2zM5 6h1v1h-1zM9 6h1v1h-1zM14 6h1v1h-1zM41 6h1v1h-1zM1 7h1v1h-1zM23 7h1v1h-1zM41 7h1v1h-1zM28 8h1v1h-1zM32 9h1v1h-1zM36 9h2v1h-2zM5 10h1v1h-1zM8 10h1v1h-1zM10 10h2v1h-2zM15 10h2v1h-2zM19 10h1v1h-1zM26 10h1v1h-1zM29 10h1v1h-1zM36 10h1v1h-1zM39 10h1v1h-1zM41 10h1v1h-1zM46 10h1v1h-1zM50 10h1v1h-1zM46 11h1v1h-1zM5 12h1v1h-1zM37 12h1v1h-1zM28 13h1v1h-1zM37 13h1v1h-1zM1 14h1v1h-1zM3 14h1v1h-1zM8 14h1v1h-1zM13 14h1v1h-1zM18 14h1v1h-1zM23 14h1v1h-1zM28 14h1v1h-1zM31 14h2v1h-2zM34 14h1v1h-1zM38 14h2v1h-2zM44 14h1v1h-1zM49 14h1v1h-1zM14 15h1v1h-1zM18 15h2v1h-2zM41 15h1v1h-1zM50 16h1v1h-1zM5 17h1v1h-1zM37 17h1v1h-1zM23 18h1v1h-1zM32 18h1v1h-1zM37 18h1v1h-1zM1 19h2v1h-2zM18 19h1v1h-1zM27 19h2v1h-2zM32 19h1v1h-1zM37 19h1v1h-1zM43 19h1v1h-1zM49 19h1v1h-1zM6 20h1v1h-1zM18 20h2v1h-2zM41 20h1v1h-1zM46 20h1v1h-1zM5 22h2v1h-2zM18 22h1v1h-1zM50 22h1v1h-1zM6 23h1v1h-1zM22 23h2v1h-2zM27 23h2v1h-2zM37 23h2v1h-2zM47 23h1v1h-1zM1 24h1v1h-1zM27 24h1v1h-1zM19 25h1v1h-1zM41 25h1v1h-1zM46 26h1v1h-1zM5 27h2v1h-2zM10 27h1v1h-1zM1 28h1v1h-1zM6 28h1v1h-1zM11 28h1v1h-1zM16 28h1v1h-1zM21 28h1v1h-1zM23 28h1v1h-1zM26 28h2v1h-2zM32 28h1v1h-1zM34 28h1v1h-1zM37 28h1v1h-1zM42 28h1v1h-1zM47 28h1v1h-1zM19 30h1v1h-1zM37 30h1v1h-1zM41 30h1v1h-1zM41 31h1v1h-1zM50 31h1v1h-1zM5 32h1v1h-1zM8 32h2v1h-2zM13 32h2v1h-2zM16 32h1v1h-1zM19 32h1v1h-1zM26 32h1v1h-1zM29 32h1v1h-1zM36 32h1v1h-1zM39 32h2v1h-2zM44 32h1v1h-1zM46 32h1v1h-1zM50 32h1v1h-1zM36 33h2v1h-2zM1 35h1v1h-1zM23 35h1v1h-1zM41 35h1v1h-1zM10 36h1v1h-1zM15 36h1v1h-1zM19 36h1v1h-1zM4 37h2v1h-2zM10 37h1v1h-1zM14 37h2v1h-2zM36 37h1v1h-1zM40 37h2v1h-2zM45 37h2v1h-2zM1 38h1v1h-1zM23 38h1v1h-1zM36 38h1v1h-1zM0 40h1v1h-1zM32 40h1v1h-1zM37 40h1v1h-1zM0 41h1v1h-1zM4 41h2v1h-2zM9 41h2v1h-2zM19 41h1v1h-1zM31 41h1v1h-1zM35 41h1v1h-1zM40 41h2v1h-2zM46 41h1v1h-1zM50 41h2v1h-2zM19 42h1v1h-1zM46 42h1v1h-1zM51 42h1v1h-1zM5 43h1v1h-1zM19 43h1v1h-1zM37 43h1v1h-1zM32 44h1v1h-1zM0 45h2v1h-2zM23 45h2v1h-2zM28 45h1v1h-1zM0 46h1v1h-1zM3 46h2v1h-2zM8 46h1v1h-1zM10 46h1v1h-1zM14 46h1v1h-1zM19 46h1v1h-1zM21 46h1v1h-1zM24 46h1v1h-1zM31 46h1v1h-1zM34 46h1v1h-1zM41 46h1v1h-1zM44 46h2v1h-2zM49 46h2v1h-2zM5 47h1v1h-1zM14 47h1v1h-1zM1 48h1v1h-1zM5 48h1v1h-1zM23 48h1v1h-1zM23 49h1v1h-1zM32 49h1v1h-1zM1 50h1v1h-1zM6 50h1v1h-1zM11 50h1v1h-1zM16 50h1v1h-1zM21 50h2v1h-2zM26 50h1v1h-1zM28 50h2v1h-2zM32 50h1v1h-1zM37 50h1v1h-1zM42 50h1v1h-1zM47 50h1v1h-1zM19 51h1v1h-1zM41 51h2v1h-2zM46 51h1v1h-1z"/><path fill="#555555" d="M4 0h1v1h-1zM9 0h2v1h-2zM15 0h1v1h-1zM46 0h1v1h-1zM51 0h1v1h-1zM4 1h1v1h-1zM9 1h1v1h-1zM25 1h1v1h-1zM30 1h1v1h-1zM35 1h1v1h-1zM40 1h1v1h-1zM23 2h1v1h-1zM36 2h1v1h-1zM28 3h1v1h-1zM32 3h1v1h-1zM0 4h1v1h-1zM24 4h1v1h-1zM4 5h1v1h-1zM30 5h1v1h-1zM35 5h1v1h-1zM40 5h1v1h-1zM45 5h1v1h-1zM10 6h1v1h-1zM15 6h1v1h-1zM40 6h1v1h-1zM45 6h2v1h-2zM51 6h1v1h-1zM24 7h1v1h-1zM36 7h2v1h-2zM32 8h1v1h-1zM1 9h1v1h-1zM6 9h1v1h-1zM18 9h1v1h-1zM29 9h1v1h-1zM31 9h1v1h-1zM42 9h1v1h-1zM0 10h1v1h-1zM21 10h1v1h-1zM31 10h1v1h-1zM14 11h1v1h-1zM50 11h2v1h-2zM19 12h1v1h-1zM23 12h1v1h-1zM11 14h1v1h-1zM21 14h1v1h-1zM42 14h1v1h-1zM0 15h1v1h-1zM11 15h1v1h-1zM13 15h1v1h-1zM24 15h1v1h-1zM49 15h1v1h-1zM10 16h1v1h-1zM14 16h1v1h-1zM46 16h1v1h-1zM41 17h2v1h-2zM27 18h1v1h-1zM33 18h1v1h-1zM38 18h1v1h-1zM7 19h1v1h-1zM12 19h1v1h-1zM17 19h1v1h-1zM22 19h1v1h-1zM38 19h1v1h-1zM48 19h1v1h-1zM5 20h1v1h-1zM42 20h1v1h-1zM10 21h1v1h-1zM14 21h1v1h-1zM46 21h1v1h-1zM50 21h1v1h-1zM19 22h1v1h-1zM2 23h1v1h-1zM7 23h1v1h-1zM12 23h1v1h-1zM17 23h1v1h-1zM33 23h1v1h-1zM43 23h1v1h-1zM48 23h1v1h-1zM28 24h1v1h-1zM32 24h2v1h-2zM42 25h1v1h-1zM10 26h1v1h-1zM14 26h1v1h-1zM50 26h1v1h-1zM0 27h1v1h-1zM11 27h1v1h-1zM13 27h1v1h-1zM24 27h1v1h-1zM36 27h1v1h-1zM41 27h1v1h-1zM47 27h1v1h-1zM3 28h1v1h-1zM13 28h1v1h-1zM44 28h1v1h-1zM28 29h1v1h-1zM32 29h2v1h-2zM1 30h1v1h-1zM5 30h1v1h-1zM10 31h1v1h-1zM45 31h2v1h-2zM3 32h1v1h-1zM24 32h1v1h-1zM34 32h1v1h-1zM6 33h1v1h-1zM18 33h1v1h-1zM23 33h1v1h-1zM29 33h1v1h-1zM28 34h1v1h-1zM32 34h1v1h-1zM0 35h1v1h-1zM9 36h1v1h-1zM14 36h1v1h-1zM45 36h1v1h-1zM50 36h2v1h-2zM20 37h1v1h-1zM25 37h1v1h-1zM30 37h1v1h-1zM35 37h1v1h-1zM51 37h1v1h-1zM0 38h1v1h-1zM24 38h1v1h-1zM37 38h1v1h-1zM28 39h1v1h-1zM32 39h1v1h-1zM1 40h1v1h-1zM36 40h1v1h-1zM15 41h1v1h-1zM20 41h1v1h-1zM25 41h1v1h-1zM30 41h1v1h-1zM9 42h1v1h-1zM14 42h2v1h-2zM20 42h1v1h-1zM45 42h1v1h-1zM50 42h1v1h-1zM23 43h2v1h-2zM36 43h1v1h-1zM28 44h1v1h-1zM18 45h1v1h-1zM29 45h1v1h-1zM31 45h1v1h-1zM42 45h1v1h-1zM29 46h1v1h-1zM39 46h1v1h-1zM9 47h2v1h-2zM46 47h1v1h-1zM37 48h1v1h-1zM41 48h1v1h-1zM8 50h1v1h-1zM18 50h1v1h-1zM39 50h1v1h-1zM49 50h1v1h-1zM0 51h1v1h-1zM5 51h1v1h-1zM11 51h1v1h-1zM36 51h1v1h-1zM47 51h1v1h-1zM49 51h1v1h-1z"/><path fill="#404040" d="M20 0h1v1h-1zM25 0h1v1h-1zM30 0h1v1h-1zM35 0h1v1h-1zM40 0h1v1h-1zM6 2h1v1h-1zM18 2h1v1h-1zM29 2h1v1h-1zM27 3h1v1h-1zM33 3h1v1h-1zM18 4h1v1h-1zM29 4h1v1h-1zM31 4h1v1h-1zM42 4h1v1h-1zM4 6h1v1h-1zM20 6h1v1h-1zM25 6h1v1h-1zM30 6h1v1h-1zM35 6h1v1h-1zM0 7h1v1h-1zM6 7h1v1h-1zM42 7h1v1h-1zM27 8h1v1h-1zM33 8h1v1h-1zM8 9h1v1h-1zM11 9h1v1h-1zM16 9h1v1h-1zM21 9h1v1h-1zM26 9h1v1h-1zM39 9h1v1h-1zM47 9h1v1h-1zM49 9h1v1h-1zM9 11h1v1h-1zM15 11h1v1h-1zM20 11h1v1h-1zM45 11h1v1h-1zM6 12h1v1h-1zM18 12h1v1h-1zM24 12h1v1h-1zM36 12h1v1h-1zM22 13h1v1h-1zM27 13h1v1h-1zM33 13h1v1h-1zM3 15h1v1h-1zM8 15h1v1h-1zM21 15h1v1h-1zM29 15h1v1h-1zM31 15h1v1h-1zM34 15h1v1h-1zM39 15h1v1h-1zM44 15h1v1h-1zM9 16h1v1h-1zM15 16h1v1h-1zM45 16h1v1h-1zM51 16h1v1h-1zM0 17h1v1h-1zM6 17h1v1h-1zM24 17h1v1h-1zM36 17h1v1h-1zM2 18h1v1h-1zM7 18h1v1h-1zM12 18h1v1h-1zM17 18h1v1h-1zM22 18h1v1h-1zM43 18h1v1h-1zM48 18h1v1h-1zM0 20h1v1h-1zM11 20h1v1h-1zM36 20h1v1h-1zM47 20h1v1h-1zM49 20h1v1h-1zM9 21h1v1h-1zM15 21h1v1h-1zM45 21h1v1h-1zM51 21h1v1h-1zM13 22h1v1h-1zM24 22h1v1h-1zM36 22h1v1h-1zM47 22h1v1h-1zM49 22h1v1h-1zM2 24h1v1h-1zM7 24h1v1h-1zM12 24h1v1h-1zM17 24h1v1h-1zM22 24h1v1h-1zM38 24h1v1h-1zM43 24h1v1h-1zM48 24h1v1h-1zM0 25h1v1h-1zM18 25h1v1h-1zM24 25h1v1h-1zM9 26h1v1h-1zM15 26h1v1h-1zM45 26h1v1h-1zM51 26h1v1h-1zM3 27h1v1h-1zM16 27h1v1h-1zM21 27h1v1h-1zM26 27h1v1h-1zM31 27h1v1h-1zM34 27h1v1h-1zM44 27h1v1h-1zM2 29h1v1h-1zM27 29h1v1h-1zM0 30h1v1h-1zM6 30h1v1h-1zM18 30h1v1h-1zM36 30h1v1h-1zM42 30h1v1h-1zM4 31h1v1h-1zM9 31h1v1h-1zM15 31h1v1h-1zM51 31h1v1h-1zM3 33h1v1h-1zM8 33h1v1h-1zM13 33h1v1h-1zM16 33h1v1h-1zM26 33h1v1h-1zM34 33h1v1h-1zM39 33h1v1h-1zM44 33h1v1h-1zM47 33h1v1h-1zM49 33h1v1h-1zM27 34h1v1h-1zM33 34h1v1h-1zM18 35h1v1h-1zM24 35h1v1h-1zM42 35h1v1h-1zM4 36h1v1h-1zM20 36h1v1h-1zM25 36h1v1h-1zM30 36h1v1h-1zM35 36h1v1h-1zM40 36h1v1h-1zM6 38h1v1h-1zM31 38h1v1h-1zM42 38h1v1h-1zM27 39h1v1h-1zM33 39h1v1h-1zM6 40h1v1h-1zM18 40h1v1h-1zM29 40h1v1h-1zM31 40h1v1h-1zM42 40h1v1h-1zM4 42h1v1h-1zM25 42h1v1h-1zM30 42h1v1h-1zM35 42h1v1h-1zM40 42h1v1h-1zM6 43h1v1h-1zM18 43h1v1h-1zM27 44h1v1h-1zM33 44h1v1h-1zM3 45h1v1h-1zM8 45h1v1h-1zM11 45h1v1h-1zM13 45h1v1h-1zM21 45h1v1h-1zM34 45h1v1h-1zM39 45h1v1h-1zM44 45h1v1h-1zM49 45h1v1h-1zM15 47h1v1h-1zM40 47h1v1h-1zM45 47h1v1h-1zM51 47h1v1h-1zM0 48h1v1h-1zM6 48h1v1h-1zM24 48h1v1h-1zM36 48h1v1h-1zM42 48h1v1h-1zM27 49h1v1h-1zM33 49h1v1h-1zM38 49h1v1h-1zM8 51h1v1h-1zM16 51h1v1h-1zM21 51h1v1h-1zM26 51h1v1h-1zM29 51h1v1h-1zM31 51h1v1h-1zM39 51h1v1h-1z"/><path fill="#2a2a2a" d="M3 2h1v1h-1zM8 2h1v1h-1zM13 2h1v1h-1zM26 2h1v1h-1zM34 2h1v1h-1zM39 2h1v1h-1zM44 2h1v1h-1zM47 2h1v1h-1zM49 2h1v1h-1zM3 4h1v1h-1zM8 4h1v1h-1zM11 4h1v1h-1zM13 4h1v1h-1zM34 4h1v1h-1zM39 4h1v1h-1zM44 4h1v1h-1zM49 4h1v1h-1zM11 7h1v1h-1zM13 7h1v1h-1zM31 7h1v1h-1zM22 8h1v1h-1zM38 8h1v1h-1zM4 11h1v1h-1zM25 11h1v1h-1zM35 11h1v1h-1zM40 11h1v1h-1zM47 12h1v1h-1zM49 12h1v1h-1zM2 13h1v1h-1zM7 13h1v1h-1zM17 13h1v1h-1zM38 13h1v1h-1zM4 16h1v1h-1zM40 16h1v1h-1zM11 17h1v1h-1zM13 17h1v1h-1zM47 17h1v1h-1zM8 20h1v1h-1zM16 20h1v1h-1zM26 20h1v1h-1zM29 20h1v1h-1zM31 20h1v1h-1zM39 20h1v1h-1zM8 22h1v1h-1zM16 22h1v1h-1zM26 22h1v1h-1zM29 22h1v1h-1zM39 22h1v1h-1zM44 22h1v1h-1zM11 25h1v1h-1zM13 25h1v1h-1zM29 25h1v1h-1zM31 25h1v1h-1zM49 25h1v1h-1zM20 26h1v1h-1zM7 29h1v1h-1zM17 29h1v1h-1zM22 29h1v1h-1zM38 29h1v1h-1zM43 29h1v1h-1zM29 30h1v1h-1zM31 30h1v1h-1zM47 30h1v1h-1zM49 30h1v1h-1zM20 31h1v1h-1zM35 31h1v1h-1zM40 31h1v1h-1zM2 34h1v1h-1zM11 35h1v1h-1zM13 35h1v1h-1zM29 35h1v1h-1zM31 35h1v1h-1zM11 38h1v1h-1zM13 38h1v1h-1zM16 38h1v1h-1zM21 38h1v1h-1zM26 38h1v1h-1zM34 38h1v1h-1zM47 38h1v1h-1zM11 40h1v1h-1zM16 40h1v1h-1zM21 40h1v1h-1zM26 40h1v1h-1zM47 40h1v1h-1zM49 40h1v1h-1zM29 43h1v1h-1zM47 43h1v1h-1zM49 43h1v1h-1zM22 44h1v1h-1zM38 44h1v1h-1zM4 47h1v1h-1zM20 47h1v1h-1zM25 47h1v1h-1zM35 47h1v1h-1zM11 48h1v1h-1zM13 48h1v1h-1zM2 49h1v1h-1zM7 49h1v1h-1zM22 49h1v1h-1zM43 49h1v1h-1z"/><path fill="#151515" d="M16 2h1v1h-1zM2 3h1v1h-1zM22 3h1v1h-1zM38 3h1v1h-1zM21 4h1v1h-1zM16 7h1v1h-1zM26 7h1v1h-1zM34 7h1v1h-1zM44 7h1v1h-1zM47 7h1v1h-1zM2 8h1v1h-1zM7 8h1v1h-1zM17 8h1v1h-1zM43 8h1v1h-1zM30 11h1v1h-1zM13 12h1v1h-1zM29 12h1v1h-1zM12 13h1v1h-1zM43 13h1v1h-1zM48 13h1v1h-1zM20 16h1v1h-1zM25 16h1v1h-1zM35 16h1v1h-1zM16 17h1v1h-1zM26 17h1v1h-1zM31 17h1v1h-1zM34 17h1v1h-1zM44 17h1v1h-1zM21 20h1v1h-1zM4 21h1v1h-1zM20 21h1v1h-1zM40 21h1v1h-1zM3 22h1v1h-1zM34 22h1v1h-1zM8 25h1v1h-1zM34 25h1v1h-1zM44 25h1v1h-1zM4 26h1v1h-1zM25 26h1v1h-1zM35 26h1v1h-1zM40 26h1v1h-1zM12 29h1v1h-1zM48 29h1v1h-1zM11 30h1v1h-1zM25 31h1v1h-1zM30 31h1v1h-1zM7 34h1v1h-1zM17 34h1v1h-1zM22 34h1v1h-1zM38 34h1v1h-1zM43 34h1v1h-1zM8 35h1v1h-1zM34 35h1v1h-1zM44 35h1v1h-1zM49 35h1v1h-1zM3 38h1v1h-1zM44 38h1v1h-1zM2 39h1v1h-1zM22 39h1v1h-1zM38 39h1v1h-1zM8 40h1v1h-1zM39 40h1v1h-1zM8 43h1v1h-1zM13 43h1v1h-1zM16 43h1v1h-1zM26 43h1v1h-1zM34 43h1v1h-1zM44 43h1v1h-1zM2 44h1v1h-1zM7 44h1v1h-1zM17 44h1v1h-1zM43 44h1v1h-1zM30 47h1v1h-1zM31 48h1v1h-1zM47 48h1v1h-1zM12 49h1v1h-1zM17 49h1v1h-1zM48 49h1v1h-1z"/><path fill="#000000" d="M7 3h1v1h-1zM12 3h1v1h-1zM17 3h1v1h-1zM43 3h1v1h-1zM48 3h1v1h-1zM3 7h1v1h-1zM21 7h1v1h-1zM12 8h1v1h-1zM48 8h1v1h-1zM3 12h1v1h-1zM8 12h1v1h-1zM16 12h1v1h-1zM26 12h1v1h-1zM34 12h1v1h-1zM39 12h1v1h-1zM44 12h1v1h-1zM30 16h1v1h-1zM3 17h1v1h-1zM21 17h1v1h-1zM25 21h1v1h-1zM30 21h1v1h-1zM35 21h1v1h-1zM3 25h1v1h-1zM21 25h1v1h-1zM39 25h1v1h-1zM30 26h1v1h-1zM8 30h1v1h-1zM16 30h1v1h-1zM21 30h1v1h-1zM26 30h1v1h-1zM39 30h1v1h-1zM12 34h1v1h-1zM48 34h1v1h-1zM3 35h1v1h-1zM21 35h1v1h-1zM39 35h1v1h-1zM7 39h1v1h-1zM12 39h1v1h-1zM17 39h1v1h-1zM43 39h1v1h-1zM48 39h1v1h-1zM3 43h1v1h-1zM39 43h1v1h-1zM12 44h1v1h-1zM48 44h1v1h-1zM3 48h1v1h-1zM16 48h1v1h-1zM21 48h1v1h-1zM26 48h1v1h-1zM34 48h1v1h-1zM44 48h1v1h-1z"/></pattern></defs>
<rect width="520" height="442" fill="#fff"/>
<rect x="81.50" y="239.20" width="15.30" height="171.00" fill="#fff"/>
<path d="M81.50 410.2V239.20M96.80 239.20V410.2" stroke="#222" stroke-width="1" fill="none"/>
<path d="M81.00 239.20H97.30" stroke="#111" stroke-width="1" fill="none"/>
<rect x="96.80" y="142.70" width="17.00" height="267.50" fill="url(#chk0)"/>
<path d="M96.80 410.2V142.70M113.80 142.70V410.2" stroke="#222" stroke-width="1" fill="none"/>
<path d="M96.30 142.70H114.30" stroke="#111" stroke-width="1" fill="none"/>
<rect x="113.80" y="219.30" width="15.40" height="190.90" fill="#fff"/>
<path d="M113.80 402.50H129.20M113.80 392.06H129.20M113.80 381.62H129.20M113.80 371.18H129.20M113.80 360.74H129.20M113.80 350.30H129.20M113.80 339.86H129.20M113.80 329.42H129.20M113.80 318.98H129.20M113.80 308.54H129.20M113.80 298.10H129.20M113.80 287.66H129.20M113.80 277.22H129.20M113.80 266.78H129.20M113.80 256.34H129.20M113.80 245.90H129.20M113.80 235.46H129.20M113.80 225.02H129.20M119.6 219.30V410.2" stroke="#000" stroke-width="1.6" fill="none"/>
<path d="M113.80 410.2V219.30M129.20 219.30V410.2" stroke="#222" stroke-width="1" fill="none"/>
<path d="M113.30 219.30H129.70" stroke="#111" stroke-width="1" fill="none"/>
<rect x="129.20" y="167.40" width="16.30" height="242.80" fill="url(#dots0)"/>
<path d="M129.20 410.2V167.40M145.50 167.40V410.2" stroke="#222" stroke-width="1" fill="none"/>
<path d="M128.70 167.40H146.00" stroke="#111" stroke-width="1" fill="none"/>
<rect x="145.50" y="187.70" width="15.90" height="222.50" fill="url(#diag0)"/>
<path d="M145.50 410.2V187.70M161.40 187.70V410.2" stroke="#222" stroke-width="1" fill="none"/>
<path d="M145.00 187.70H161.90" stroke="#111" stroke-width="1" fill="none"/>
<rect x="161.40" y="195.90" width="14.90" height="214.30" fill="url(#chev0)"/>
<path d="M161.40 410.2V195.90M176.30 195.90V410.2" stroke="#222" stroke-width="1" fill="none"/>
<path d="M160.90 195.90H176.80" stroke="#111" stroke-width="1" fill="none"/>
<rect x="176.30" y="318.80" width="17.20" height="91.40" fill="url(#weave0)"/>
<path d="M176.30 410.2V318.80M193.50 318.80V410.2" stroke="#222" stroke-width="1" fill="none"/>
<path d="M175.80 318.80H194.00" stroke="#111" stroke-width="1" fill="none"/>
<rect x="231.90" y="179.30" width="15.40" height="230.90" fill="#fff"/>
<path d="M231.90 410.2V179.30M247.30 179.30V410.2" stroke="#222" stroke-width="1" fill="none"/>
<path d="M231.40 179.30H247.80" stroke="#111" stroke-width="1" fill="none"/>
<rect x="247.30" y="146.50" width="16.40" height="263.70" fill="#999999"/>
<path d="M247.30 410.2V146.50M263.70 146.50V410.2" stroke="#222" stroke-width="1" fill="none"/>
<path d="M246.80 146.50H264.20" stroke="#111" stroke-width="1" fill="none"/>
<rect x="263.70" y="157.80" width="15.70" height="252.40" fill="#fff"/>
<path d="M263.70 402.50H279.40M263.70 392.06H279.40M263.70 381.62H279.40M263.70 371.18H279.40M263.70 360.74H279.40M263.70 350.30H279.40M263.70 339.86H279.40M263.70 329.42H279.40M263.70 318.98H279.40M263.70 308.54H279.40M263.70 298.10H279.40M263.70 287.66H279.40M263.70 277.22H279.40M263.70 266.78H279.40M263.70 256.34H279.40M263.70 245.90H279.40M263.70 235.46H279.40M263.70 225.02H279.40M263.70 214.58H279.40M263.70 204.14H279.40M263.70 193.70H279.40M263.70 183.26H279.40M263.70 172.82H279.40M263.70 162.38H279.40M268.3 157.80V410.2" stroke="#000" stroke-width="1.6" fill="none"/>
<path d="M263.70 410.2V157.80M279.40 157.80V410.2" stroke="#222" stroke-width="1" fill="none"/>
<path d="M263.20 157.80H279.90" stroke="#111" stroke-width="1" fill="none"/>
<rect x="279.40" y="216.10" width="16.50" height="194.10" fill="url(#dots1)"/>
<path d="M279.40 410.2V216.10M295.90 216.10V410.2" stroke="#222" stroke-width="1" fill="none"/>
<path d="M278.90 216.10H296.40" stroke="#111" stroke-width="1" fill="none"/>
<rect x="295.90" y="275.50" width="14.70" height="134.70" fill="url(#diag1)"/>
<path d="M295.90 410.2V275.50M310.60 275.50V410.2" stroke="#222" stroke-width="1" fill="none"/>
<path d="M295.40 275.50H311.10" stroke="#111" stroke-width="1" fill="none"/>
<rect x="310.60" y="277.30" width="14.60" height="132.90" fill="url(#chev1)"/>
<path d="M310.60 410.2V277.30M325.20 277.30V410.2" stroke="#222" stroke-width="1" fill="none"/>
<path d="M310.10 277.30H325.70" stroke="#111" stroke-width="1" fill="none"/>
<rect x="325.20" y="335.30" width="17.40" height="74.90" fill="url(#weave1)"/>
<path d="M325.20 410.2V335.30M342.60 335.30V410.2" stroke="#222" stroke-width="1" fill="none"/>
<path d="M324.70 335.30H343.10" stroke="#111" stroke-width="1" fill="none"/>
<rect x="380.90" y="220.90" width="15.30" height="189.30" fill="#fff"/>
<path d="M380.90 410.2V220.90M396.20 220.90V410.2" stroke="#222" stroke-width="1" fill="none"/>
<path d="M380.40 220.90H396.70" stroke="#111" stroke-width="1" fill="none"/>
<rect x="396.20" y="187.70" width="17.10" height="222.50" fill="url(#chk2)"/>
<path d="M396.20 410.2V187.70M413.30 187.70V410.2" stroke="#222" stroke-width="1" fill="none"/>
<path d="M395.70 187.70H413.80" stroke="#111" stroke-width="1" fill="none"/>
<rect x="413.30" y="126.30" width="14.70" height="283.90" fill="#fff"/>
<path d="M413.30 402.50H428.00M413.30 392.06H428.00M413.30 381.62H428.00M413.30 371.18H428.00M413.30 360.74H428.00M413.30 350.30H428.00M413.30 339.86H428.00M413.30 329.42H428.00M413.30 318.98H428.00M413.30 308.54H428.00M413.30 298.10H428.00M413.30 287.66H428.00M413.30 277.22H428.00M413.30 266.78H428.00M413.30 256.34H428.00M413.30 245.90H428.00M413.30 235.46H428.00M413.30 225.02H428.00M413.30 214.58H428.00M413.30 204.14H428.00M413.30 193.70H428.00M413.30 183.26H428.00M413.30 172.82H428.00M413.30 162.38H428.00M413.30 151.94H428.00M413.30 141.50H428.00M413.30 131.06H428.00M417.0 126.30V410.2" stroke="#000" stroke-width="1.6" fill="none"/>
<path d="M413.30 410.2V126.30M428.00 126.30V410.2" stroke="#222" stroke-width="1" fill="none"/>
<path d="M412.80 126.30H428.50" stroke="#111" stroke-width="1" fill="none"/>
<rect x="428.00" y="121.40" width="17.30" height="288.80" fill="url(#dots2)"/>
<path d="M428.00 410.2V121.40M445.30 121.40V410.2" stroke="#222" stroke-width="1" fill="none"/>
<path d="M427.50 121.40H445.80" stroke="#111" stroke-width="1" fill="none"/>
<rect x="445.30" y="294.00" width="15.10" height="116.20" fill="url(#diag2)"/>
<path d="M445.30 410.2V294.00M460.40 294.00V410.2" stroke="#222" stroke-width="1" fill="none"/>
<path d="M444.80 294.00H460.90" stroke="#111" stroke-width="1" fill="none"/>
<rect x="460.40" y="259.30" width="15.10" height="150.90" fill="url(#chev2)"/>
<path d="M460.40 410.2V259.30M475.50 259.30V410.2" stroke="#222" stroke-width="1" fill="none"/>
<path d="M459.90 259.30H476.00" stroke="#111" stroke-width="1" fill="none"/>
<rect x="475.50" y="355.60" width="16.80" height="54.60" fill="url(#weave2)"/>
<path d="M475.50 410.2V355.60M492.30 355.60V410.2" stroke="#222" stroke-width="1" fill="none"/>
<path d="M475.00 355.60H492.80" stroke="#111" stroke-width="1" fill="none"/>
<path d="M88.7 206.1V239.2M83.1 206.1H95.8" stroke="#858585" stroke-width="1" fill="none"/>
<path d="M105.9 135.8V142.7M100.5 135.8H112.5" stroke="#858585" stroke-width="1" fill="none"/>
<path d="M121.2 179.3V219.3M116.3 179.3H128.1" stroke="#858585" stroke-width="1" fill="none"/>
<path d="M136.3 156.2V167.4M130.9 156.2H143.4" stroke="#858585" stroke-width="1" fill="none"/>
<path d="M153.4 142.3V187.7M147.1 142.3H160.3" stroke="#858585" stroke-width="1" fill="none"/>
<path d="M168.5 182.5V195.9M162.7 182.5H175.4" stroke="#858585" stroke-width="1" fill="none"/>
<path d="M183.7 315.4V318.8M178.1 315.4H189.4" stroke="#858585" stroke-width="1" fill="none"/>
<path d="M238.6 132.9V179.3M234.2 132.9H245.6" stroke="#858585" stroke-width="1" fill="none"/>
<path d="M254.2 129.6V146.5M248.6 129.6H261.1" stroke="#858585" stroke-width="1" fill="none"/>
<path d="M270.8 106.1V157.8M266.0 106.1H277.7" stroke="#858585" stroke-width="1" fill="none"/>
<path d="M287.5 176.2V216.1M282.2 176.2H294.7" stroke="#858585" stroke-width="1" fill="none"/>
<path d="M302.5 247.4V275.5M297.7 247.4H308.6" stroke="#858585" stroke-width="1" fill="none"/>
<path d="M317.1 242.5V277.3M312.4 242.5H323.8" stroke="#858585" stroke-width="1" fill="none"/>
<path d="M335.0 332.2V335.3M329.1 332.2H341.6" stroke="#858585" stroke-width="1" fill="none"/>
<path d="M387.9 172.7V220.9M383.1 172.7H395.0" stroke="#858585" stroke-width="1" fill="none"/>
<path d="M404.8 164.0V187.7M400.0 164.0H412.1" stroke="#858585" stroke-width="1" fill="none"/>
<path d="M420.2 52.8V126.3M415.1 52.8H427.8" stroke="#858585" stroke-width="1" fill="none"/>
<path d="M435.1 84.2V121.4M429.8 84.2H442.6" stroke="#858585" stroke-width="1" fill="none"/>
<path d="M451.3 264.0V294.0M447.0 264.0H458.1" stroke="#858585" stroke-width="1" fill="none"/>
<path d="M467.4 209.5V259.3M461.1 209.5H474.2" stroke="#858585" stroke-width="1" fill="none"/>
<path d="M481.6 333.7V355.6M477.0 333.7H489.2" stroke="#858585" stroke-width="1" fill="none"/>
<line x1="69.8" y1="3.5" x2="69.8" y2="415.6" stroke="#707070" stroke-width="1"/>
<line x1="64.5" y1="410.2" x2="520" y2="410.2" stroke="#707070" stroke-width="1"/>
<line x1="64.8" y1="410.20" x2="69.8" y2="410.20" stroke="#707070" stroke-width="1"/>
<text x="58.6" y="417.80" text-anchor="end" class="yl">0</text>
<line x1="64.8" y1="342.54" x2="69.8" y2="342.54" stroke="#707070" stroke-width="1"/>
<text x="58.6" y="350.14" text-anchor="end" class="yl">20</text>
<line x1="64.8" y1="274.88" x2="69.8" y2="274.88" stroke="#707070" stroke-width="1"/>
<text x="58.6" y="282.48" text-anchor="end" class="yl">40</text>
<line x1="64.8" y1="207.22" x2="69.8" y2="207.22" stroke="#707070" stroke-width="1"/>
<text x="58.6" y="214.82" text-anchor="end" class="yl">60</text>
<line x1="64.8" y1="139.56" x2="69.8" y2="139.56" stroke="#707070" stroke-width="1"/>
<text x="58.6" y="147.16" text-anchor="end" class="yl">80</text>
<line x1="64.8" y1="71.90" x2="69.8" y2="71.90" stroke="#707070" stroke-width="1"/>
<text x="58.6" y="79.50" text-anchor="end" class="yl">100</text>
<line x1="64.8" y1="4.24" x2="69.8" y2="4.24" stroke="#707070" stroke-width="1"/>
<text x="58.6" y="11.84" text-anchor="end" class="yl">120</text>
<line x1="219.8" y1="410.2" x2="219.8" y2="415.6" stroke="#707070" stroke-width="1"/>
<line x1="368.8" y1="410.2" x2="368.8" y2="415.6" stroke="#707070" stroke-width="1"/>
<line x1="519.2" y1="410.2" x2="519.2" y2="415.6" stroke="#707070" stroke-width="1"/>
<text x="210.7" y="400.9" text-anchor="middle" class="zl">0</text>
<text x="358.0" y="398.9" text-anchor="middle" class="zl">0</text>
<text x="502.5" y="400.6" text-anchor="middle" class="zl">0</text>
<text x="107.4" y="441" textLength="74.5" lengthAdjust="spacingAndGlyphs" class="xl">40 millions</text>
<text x="257.2" y="441" textLength="73.9" lengthAdjust="spacingAndGlyphs" class="xl">80 millions</text>
<text x="404.0" y="441" textLength="82.1" lengthAdjust="spacingAndGlyphs" class="xl">120 millions</text>
<text x="147.3" y="33.1" class="lg">3 weeks</text>
<text x="147.3" y="49.6" class="lg">5 weeks</text>
<text x="147.3" y="66.2" class="lg">7 weeks</text>
<text x="147.3" y="82.9" class="lg">15 weeks</text>
<text x="305.2" y="33.1" text-anchor="middle" class="lg">4 weeks</text>
<text x="305.2" y="49.6" text-anchor="middle" class="lg">6 weeks</text>
<text x="305.2" y="66.2" text-anchor="middle" class="lg">9 weeks</text>
<text x="305.2" y="82.9" text-anchor="middle" class="lg">38 weeks</text>
<rect x="125.5" y="23.5" width="10" height="10" fill="#fff" stroke="#555" stroke-width="1"/>
<path d="M128.3 38.8V47.5M124.3 47.5H134.7" stroke="#000" stroke-width="1.4" fill="none"/>
<path d="M125.9 57.1L133.4 63.7" stroke="#000" stroke-width="2.7" stroke-linecap="round" fill="none"/><path d="M124.6 63.6L127.4 65.8H124.6Z" fill="#111"/>
<path d="M126.5 72.3L128 73.7L129.7 72.3M124.4 75.3L129.7 80.6M129.3 77.7L133.7 73.3M130.4 76.2L133.7 78.8L129.7 82.4" stroke="#222" stroke-width="1" fill="none"/><rect x="124.7" y="80.9" width="1.3" height="1.3" fill="#000"/>
<rect x="249" y="22.2" width="10.4" height="10.6" fill="url(#chkL)"/>
<rect x="248.9" y="38.9" width="10.5" height="10.9" fill="url(#dotsL)"/>
<rect x="248.9" y="55.5" width="10.5" height="10.4" fill="url(#chevL)"/>
<rect x="248.9" y="72.1" width="11" height="11" fill="#000"/>
<text transform="translate(16.6,352) rotate(-90)" class="yt">Serum Anti-CD40</text>
<text transform="translate(16.6,177.2) rotate(-90)" class="yt" style="font-size:21px">Ligand</text>
<text transform="translate(16.6,113.6) rotate(-90)" class="yt" style="font-size:24px">µ</text>
<text transform="translate(21.9,91.5) rotate(-90)" class="yt">g/ml)</text>
</svg></body></html>
